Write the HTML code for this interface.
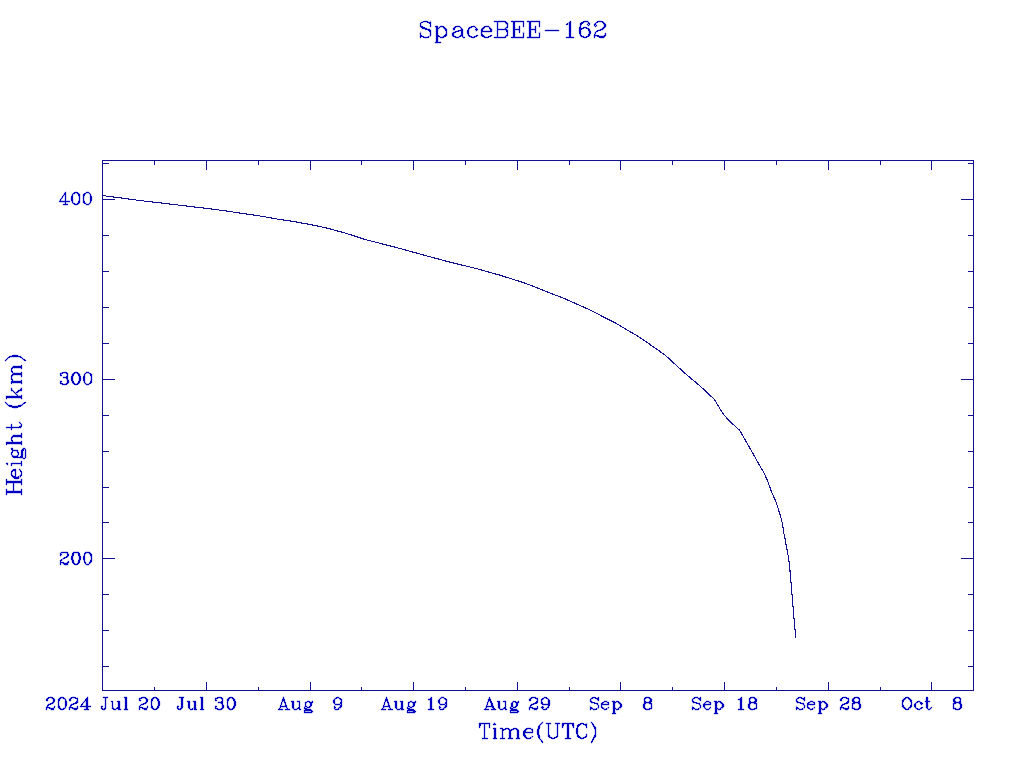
<!DOCTYPE html>
<html><head><meta charset="utf-8"><style>
html,body{margin:0;padding:0;background:#ffffff;width:1024px;height:768px;overflow:hidden}
svg{display:block}

</style></head><body>
<svg width="1024" height="768" viewBox="0 0 1024 768">
<rect width="1024" height="768" fill="#ffffff"/>
<g shape-rendering="crispEdges">
<rect x="102" y="160" width="872" height="1" fill="#101090"/>
<rect x="102" y="690" width="872" height="1" fill="#101090"/>
<rect x="102" y="160" width="1" height="531" fill="#101090"/>
<rect x="973" y="160" width="1" height="531" fill="#101090"/>
<rect x="206" y="160" width="1" height="10" fill="#101090"/>
<rect x="206" y="682" width="1" height="9" fill="#101090"/>
<rect x="310" y="160" width="1" height="10" fill="#101090"/>
<rect x="310" y="682" width="1" height="9" fill="#101090"/>
<rect x="413" y="160" width="1" height="10" fill="#101090"/>
<rect x="413" y="682" width="1" height="9" fill="#101090"/>
<rect x="517" y="160" width="1" height="10" fill="#101090"/>
<rect x="517" y="682" width="1" height="9" fill="#101090"/>
<rect x="620" y="160" width="1" height="10" fill="#101090"/>
<rect x="620" y="682" width="1" height="9" fill="#101090"/>
<rect x="724" y="160" width="1" height="10" fill="#101090"/>
<rect x="724" y="682" width="1" height="9" fill="#101090"/>
<rect x="828" y="160" width="1" height="10" fill="#101090"/>
<rect x="828" y="682" width="1" height="9" fill="#101090"/>
<rect x="931" y="160" width="1" height="10" fill="#101090"/>
<rect x="931" y="682" width="1" height="9" fill="#101090"/>
<rect x="154" y="160" width="1" height="5" fill="#101090"/>
<rect x="154" y="687" width="1" height="4" fill="#101090"/>
<rect x="258" y="160" width="1" height="5" fill="#101090"/>
<rect x="258" y="687" width="1" height="4" fill="#101090"/>
<rect x="361" y="160" width="1" height="5" fill="#101090"/>
<rect x="361" y="687" width="1" height="4" fill="#101090"/>
<rect x="465" y="160" width="1" height="5" fill="#101090"/>
<rect x="465" y="687" width="1" height="4" fill="#101090"/>
<rect x="569" y="160" width="1" height="5" fill="#101090"/>
<rect x="569" y="687" width="1" height="4" fill="#101090"/>
<rect x="672" y="160" width="1" height="5" fill="#101090"/>
<rect x="672" y="687" width="1" height="4" fill="#101090"/>
<rect x="776" y="160" width="1" height="5" fill="#101090"/>
<rect x="776" y="687" width="1" height="4" fill="#101090"/>
<rect x="880" y="160" width="1" height="5" fill="#101090"/>
<rect x="880" y="687" width="1" height="4" fill="#101090"/>
<rect x="102" y="163" width="7" height="1" fill="#101090"/>
<rect x="968" y="163" width="6" height="1" fill="#101090"/>
<rect x="102" y="199" width="13" height="1" fill="#101090"/>
<rect x="961" y="199" width="13" height="1" fill="#101090"/>
<rect x="102" y="235" width="7" height="1" fill="#101090"/>
<rect x="968" y="235" width="6" height="1" fill="#101090"/>
<rect x="102" y="271" width="7" height="1" fill="#101090"/>
<rect x="968" y="271" width="6" height="1" fill="#101090"/>
<rect x="102" y="307" width="7" height="1" fill="#101090"/>
<rect x="968" y="307" width="6" height="1" fill="#101090"/>
<rect x="102" y="343" width="7" height="1" fill="#101090"/>
<rect x="968" y="343" width="6" height="1" fill="#101090"/>
<rect x="102" y="379" width="13" height="1" fill="#101090"/>
<rect x="961" y="379" width="13" height="1" fill="#101090"/>
<rect x="102" y="415" width="7" height="1" fill="#101090"/>
<rect x="968" y="415" width="6" height="1" fill="#101090"/>
<rect x="102" y="451" width="7" height="1" fill="#101090"/>
<rect x="968" y="451" width="6" height="1" fill="#101090"/>
<rect x="102" y="487" width="7" height="1" fill="#101090"/>
<rect x="968" y="487" width="6" height="1" fill="#101090"/>
<rect x="102" y="522" width="7" height="1" fill="#101090"/>
<rect x="968" y="522" width="6" height="1" fill="#101090"/>
<rect x="102" y="558" width="13" height="1" fill="#101090"/>
<rect x="961" y="558" width="13" height="1" fill="#101090"/>
<rect x="102" y="594" width="7" height="1" fill="#101090"/>
<rect x="968" y="594" width="6" height="1" fill="#101090"/>
<rect x="102" y="630" width="7" height="1" fill="#101090"/>
<rect x="968" y="630" width="6" height="1" fill="#101090"/>
<rect x="102" y="666" width="7" height="1" fill="#101090"/>
<rect x="968" y="666" width="6" height="1" fill="#101090"/>
</g>
<polyline points="102,195.5 109.75,196.5 117.5,197.5 125,198.5 132,199.5 139.75,200.5 148.25,201.5 157,202.5 165.5,203.5 173.75,204.5 182,205.5 190.25,206.5 199,207.5 207.5,208.5 215.25,209.5 222.8,210.5 229.5,211.5 236.2,212.5 243.2,213.5 250,214.5 257,215.5 263.1,216.5 268.5,217.5 274,218.5 280.1,219.5 287,220.5 293.3,221.5 299,222.5 304.5,223.5 310,224.5 315,225.5 319.5,226.5 324.1,227.5 328.6,228.5 332.3,229.5 335.8,230.5 339.6,231.5 343.2,232.5 346.3,233.5 349.6,234.5 353,235.5 357,236.8 365,239.5 375,242 400,248.5 425,255.4 450,262.2 475,268.2 500,275.2 525,283.1 550,293 565,298.8 590,310 615,322.8 640,337.5 665,355 685,373.3 700.8,386.7 714.2,399.2 723.3,414.2 729.2,420.8 739.8,430.5 750,448.3 760.8,467.5 763.4,471.5 767.6,480.8 771.25,491.25 775.9,501.7 780.6,516.25 782.7,524.6 783.5,531.75 784.5,536 785.5,541.5 786.5,547 787.5,552.25 788.5,557.5 789.5,565.3 790.5,576.3 791.5,588 792.5,600.25 793.5,612.25 794.5,624 795.5,634 795.5,637.8" fill="none" stroke="#101090" stroke-width="1.1" shape-rendering="crispEdges"/>
<g fill="none" stroke="#0000c0" stroke-width="1.8" stroke-opacity="0.35" stroke-linecap="round" stroke-linejoin="round">
<path d="M47.50 699.50 L47.50 700.50 L47.50 700.50 L46.50 700.50 L46.50 699.50 L47.50 698.50 L47.50 698.50 L49.50 697.50 L51.50 697.50 L53.50 698.50 L53.50 698.50 L54.50 699.50 L54.50 700.50 L53.50 702.50 L52.50 703.50 L49.50 704.50 L48.50 704.50 L47.50 706.50 L46.50 707.50 L46.50 709.50 M51.50 697.50 L52.50 698.50 L53.50 698.50 L53.50 699.50 L53.50 700.50 L53.50 702.50 L51.50 703.50 L49.50 704.50 M46.50 708.50 L47.50 707.50 L48.50 707.50 L51.50 708.50 L52.50 708.50 L53.50 708.50 L54.50 707.50 M48.50 707.50 L51.50 709.50 L53.50 709.50 L53.50 708.50 L54.50 707.50 L54.50 706.50 M61.50 697.50 L59.50 698.50 L58.50 699.50 L58.50 702.50 L58.50 704.50 L58.50 707.50 L59.50 708.50 L61.50 709.50 L62.50 709.50 L64.50 708.50 L65.50 707.50 L66.50 704.50 L66.50 702.50 L65.50 699.50 L64.50 698.50 L62.50 697.50 L61.50 697.50 M61.50 697.50 L60.50 698.50 L59.50 698.50 L59.50 699.50 L58.50 702.50 L58.50 704.50 L59.50 707.50 L59.50 708.50 L60.50 708.50 L61.50 709.50 M62.50 709.50 L63.50 708.50 L64.50 708.50 L65.50 707.50 L65.50 704.50 L65.50 702.50 L65.50 699.50 L64.50 698.50 L63.50 698.50 L62.50 697.50 M70.50 699.50 L70.50 700.50 L70.50 700.50 L69.50 700.50 L69.50 699.50 L70.50 698.50 L70.50 698.50 L72.50 697.50 L74.50 697.50 L76.50 698.50 L77.50 698.50 L77.50 699.50 L77.50 700.50 L77.50 702.50 L75.50 703.50 L72.50 704.50 L71.50 704.50 L70.50 706.50 L69.50 707.50 L69.50 709.50 M74.50 697.50 L76.50 698.50 L76.50 698.50 L77.50 699.50 L77.50 700.50 L76.50 702.50 L74.50 703.50 L72.50 704.50 M69.50 708.50 L70.50 707.50 L71.50 707.50 L74.50 708.50 L76.50 708.50 L77.50 708.50 L77.50 707.50 M71.50 707.50 L74.50 709.50 L76.50 709.50 L77.50 708.50 L77.50 707.50 L77.50 706.50 M86.50 698.50 L86.50 709.50 M87.50 697.50 L87.50 709.50 M87.50 697.50 L80.50 706.50 L90.50 706.50 M84.50 709.50 L88.50 709.50"/>
<path d="M105.50 697.50 L105.50 707.50 L104.50 708.50 L104.50 709.50 M105.50 697.50 L105.50 707.50 L105.50 708.50 L104.50 709.50 L103.50 709.50 L101.50 708.50 L101.50 707.50 L101.50 706.50 L101.50 706.50 L102.50 706.50 L101.50 707.50 M103.50 697.50 L107.50 697.50 M112.50 701.50 L112.50 707.50 L112.50 708.50 L114.50 709.50 L115.50 709.50 L116.50 708.50 L118.50 707.50 M112.50 701.50 L112.50 707.50 L113.50 708.50 L114.50 709.50 M118.50 701.50 L118.50 709.50 M119.50 701.50 L119.50 709.50 M111.50 701.50 L112.50 701.50 M117.50 701.50 L119.50 701.50 M118.50 709.50 L120.50 709.50 M125.50 697.50 L125.50 709.50 M126.50 697.50 L126.50 709.50 M124.50 697.50 L126.50 697.50 M124.50 709.50 L127.50 709.50"/>
<path d="M139.50 699.50 L140.50 700.50 L139.50 700.50 L139.50 700.50 L139.50 699.50 L139.50 698.50 L140.50 698.50 L142.50 697.50 L144.50 697.50 L146.50 698.50 L146.50 698.50 L147.50 699.50 L147.50 700.50 L146.50 702.50 L145.50 703.50 L142.50 704.50 L141.50 704.50 L139.50 706.50 L139.50 707.50 L139.50 709.50 M144.50 697.50 L145.50 698.50 L146.50 698.50 L146.50 699.50 L146.50 700.50 L146.50 702.50 L144.50 703.50 L142.50 704.50 M139.50 708.50 L139.50 707.50 L141.50 707.50 L144.50 708.50 L145.50 708.50 L146.50 708.50 L147.50 707.50 M141.50 707.50 L144.50 709.50 L146.50 709.50 L146.50 708.50 L147.50 707.50 L147.50 706.50 M154.50 697.50 L152.50 698.50 L151.50 699.50 L151.50 702.50 L151.50 704.50 L151.50 707.50 L152.50 708.50 L154.50 709.50 L155.50 709.50 L157.50 708.50 L158.50 707.50 L159.50 704.50 L159.50 702.50 L158.50 699.50 L157.50 698.50 L155.50 697.50 L154.50 697.50 M154.50 697.50 L153.50 698.50 L152.50 698.50 L152.50 699.50 L151.50 702.50 L151.50 704.50 L152.50 707.50 L152.50 708.50 L153.50 708.50 L154.50 709.50 M155.50 709.50 L156.50 708.50 L157.50 708.50 L157.50 707.50 L158.50 704.50 L158.50 702.50 L157.50 699.50 L157.50 698.50 L156.50 698.50 L155.50 697.50"/>
<path d="M181.50 697.50 L181.50 707.50 L180.50 708.50 L180.50 709.50 M182.50 697.50 L182.50 707.50 L181.50 708.50 L180.50 709.50 L179.50 709.50 L177.50 708.50 L177.50 707.50 L177.50 706.50 L177.50 706.50 L178.50 706.50 L177.50 707.50 M179.50 697.50 L183.50 697.50 M188.50 701.50 L188.50 707.50 L189.50 708.50 L190.50 709.50 L191.50 709.50 L193.50 708.50 L194.50 707.50 M189.50 701.50 L189.50 707.50 L189.50 708.50 L190.50 709.50 M194.50 701.50 L194.50 709.50 M195.50 701.50 L195.50 709.50 M187.50 701.50 L189.50 701.50 M193.50 701.50 L195.50 701.50 M194.50 709.50 L196.50 709.50 M201.50 697.50 L201.50 709.50 M202.50 697.50 L202.50 709.50 M200.50 697.50 L202.50 697.50 M200.50 709.50 L203.50 709.50"/>
<path d="M215.50 699.50 L216.50 700.50 L215.50 700.50 L215.50 700.50 L215.50 699.50 L215.50 698.50 L216.50 698.50 L218.50 697.50 L220.50 697.50 L222.50 698.50 L222.50 699.50 L222.50 700.50 L222.50 702.50 L220.50 702.50 L218.50 702.50 M220.50 697.50 L221.50 698.50 L222.50 699.50 L222.50 700.50 L221.50 702.50 L220.50 702.50 M220.50 702.50 L221.50 703.50 L222.50 704.50 L223.50 705.50 L223.50 707.50 L222.50 708.50 L222.50 708.50 L220.50 709.50 L218.50 709.50 L216.50 708.50 L215.50 708.50 L215.50 707.50 L215.50 706.50 L215.50 706.50 L216.50 706.50 L215.50 707.50 M222.50 703.50 L222.50 705.50 L222.50 707.50 L222.50 708.50 L221.50 708.50 L220.50 709.50 M230.50 697.50 L228.50 698.50 L227.50 699.50 L227.50 702.50 L227.50 704.50 L227.50 707.50 L228.50 708.50 L230.50 709.50 L231.50 709.50 L233.50 708.50 L234.50 707.50 L235.50 704.50 L235.50 702.50 L234.50 699.50 L233.50 698.50 L231.50 697.50 L230.50 697.50 M230.50 697.50 L229.50 698.50 L228.50 698.50 L228.50 699.50 L227.50 702.50 L227.50 704.50 L228.50 707.50 L228.50 708.50 L229.50 708.50 L230.50 709.50 M231.50 709.50 L232.50 708.50 L233.50 708.50 L233.50 707.50 L234.50 704.50 L234.50 702.50 L233.50 699.50 L233.50 698.50 L232.50 698.50 L231.50 697.50"/>
<path d="M283.50 697.50 L279.50 709.50 M283.50 697.50 L287.50 709.50 M283.50 699.50 L287.50 709.50 M281.50 706.50 L286.50 706.50 M278.50 709.50 L282.50 709.50 M285.50 709.50 L289.50 709.50 M292.50 701.50 L292.50 707.50 L293.50 708.50 L294.50 709.50 L296.50 709.50 L297.50 708.50 L299.50 707.50 M293.50 701.50 L293.50 707.50 L293.50 708.50 L294.50 709.50 M299.50 701.50 L299.50 709.50 M299.50 701.50 L299.50 709.50 M291.50 701.50 L293.50 701.50 M297.50 701.50 L299.50 701.50 M299.50 709.50 L300.50 709.50 M307.50 701.50 L306.50 702.50 L305.50 702.50 L305.50 703.50 L305.50 704.50 L305.50 706.50 L306.50 706.50 L307.50 707.50 L308.50 707.50 L310.50 706.50 L310.50 706.50 L311.50 704.50 L311.50 703.50 L310.50 702.50 L310.50 702.50 L308.50 701.50 L307.50 701.50 M306.50 702.50 L305.50 703.50 L305.50 705.50 L306.50 706.50 M310.50 706.50 L310.50 705.50 L310.50 703.50 L310.50 702.50 M310.50 702.50 L311.50 702.50 L312.50 701.50 L312.50 701.50 L312.50 702.50 L312.50 702.50 L311.50 702.50 M305.50 706.50 L305.50 706.50 L304.50 707.50 L304.50 708.50 L305.50 709.50 L305.50 710.50 L307.50 710.50 L310.50 710.50 L311.50 711.50 L312.50 711.50 M304.50 708.50 L305.50 708.50 L307.50 709.50 L310.50 709.50 L311.50 710.50 L312.50 711.50 L312.50 711.50 L311.50 712.50 L310.50 712.50 L306.50 712.50 L304.50 712.50 L304.50 711.50 L304.50 711.50 L304.50 710.50 L306.50 709.50"/>
<path d="M341.50 701.50 L340.50 703.50 L339.50 704.50 L337.50 704.50 L337.50 704.50 L335.50 704.50 L334.50 703.50 L333.50 701.50 L333.50 700.50 L334.50 699.50 L335.50 698.50 L337.50 697.50 L338.50 697.50 L339.50 698.50 L341.50 699.50 L341.50 700.50 L341.50 704.50 L341.50 706.50 L340.50 707.50 L339.50 708.50 L337.50 709.50 L335.50 709.50 L334.50 708.50 L334.50 707.50 L334.50 707.50 L334.50 706.50 L335.50 707.50 L334.50 707.50 M337.50 704.50 L335.50 704.50 L334.50 703.50 L334.50 701.50 L334.50 700.50 L334.50 699.50 L335.50 698.50 L337.50 697.50 M338.50 697.50 L339.50 698.50 L340.50 699.50 L341.50 700.50 L341.50 704.50 L340.50 706.50 L339.50 707.50 L338.50 708.50 L337.50 709.50"/>
<path d="M386.50 697.50 L382.50 709.50 M386.50 697.50 L390.50 709.50 M386.50 699.50 L390.50 709.50 M383.50 706.50 L389.50 706.50 M381.50 709.50 L385.50 709.50 M388.50 709.50 L392.50 709.50 M395.50 701.50 L395.50 707.50 L396.50 708.50 L397.50 709.50 L399.50 709.50 L400.50 708.50 L401.50 707.50 M396.50 701.50 L396.50 707.50 L396.50 708.50 L397.50 709.50 M401.50 701.50 L401.50 709.50 M402.50 701.50 L402.50 709.50 M394.50 701.50 L396.50 701.50 M400.50 701.50 L402.50 701.50 M401.50 709.50 L403.50 709.50 M410.50 701.50 L409.50 702.50 L408.50 702.50 L408.50 703.50 L408.50 704.50 L408.50 706.50 L409.50 706.50 L410.50 707.50 L411.50 707.50 L412.50 706.50 L413.50 706.50 L414.50 704.50 L414.50 703.50 L413.50 702.50 L412.50 702.50 L411.50 701.50 L410.50 701.50 M409.50 702.50 L408.50 703.50 L408.50 705.50 L409.50 706.50 M412.50 706.50 L413.50 705.50 L413.50 703.50 L412.50 702.50 M413.50 702.50 L414.50 702.50 L415.50 701.50 L415.50 701.50 L415.50 702.50 L415.50 702.50 L414.50 702.50 M408.50 706.50 L408.50 706.50 L407.50 707.50 L407.50 708.50 L408.50 709.50 L408.50 710.50 L410.50 710.50 L412.50 710.50 L414.50 711.50 L415.50 711.50 M407.50 708.50 L408.50 708.50 L410.50 709.50 L412.50 709.50 L414.50 710.50 L415.50 711.50 L415.50 711.50 L414.50 712.50 L412.50 712.50 L409.50 712.50 L407.50 712.50 L407.50 711.50 L407.50 711.50 L407.50 710.50 L409.50 709.50"/>
<path d="M428.50 699.50 L429.50 699.50 L431.50 697.50 L431.50 709.50 M430.50 698.50 L430.50 709.50 M428.50 709.50 L433.50 709.50 M446.50 701.50 L445.50 703.50 L444.50 704.50 L442.50 704.50 L441.50 704.50 L440.50 704.50 L439.50 703.50 L438.50 701.50 L438.50 700.50 L439.50 699.50 L440.50 698.50 L441.50 697.50 L443.50 697.50 L444.50 698.50 L446.50 699.50 L446.50 700.50 L446.50 704.50 L446.50 706.50 L445.50 707.50 L444.50 708.50 L442.50 709.50 L440.50 709.50 L439.50 708.50 L439.50 707.50 L439.50 707.50 L439.50 706.50 L440.50 707.50 L439.50 707.50 M441.50 704.50 L440.50 704.50 L439.50 703.50 L439.50 701.50 L439.50 700.50 L439.50 699.50 L440.50 698.50 L441.50 697.50 M443.50 697.50 L444.50 698.50 L445.50 699.50 L446.50 700.50 L446.50 704.50 L445.50 706.50 L444.50 707.50 L443.50 708.50 L442.50 709.50"/>
<path d="M489.50 697.50 L485.50 709.50 M489.50 697.50 L494.50 709.50 M489.50 699.50 L493.50 709.50 M487.50 706.50 L492.50 706.50 M484.50 709.50 L488.50 709.50 M491.50 709.50 L495.50 709.50 M498.50 701.50 L498.50 707.50 L499.50 708.50 L500.50 709.50 L502.50 709.50 L503.50 708.50 L505.50 707.50 M499.50 701.50 L499.50 707.50 L499.50 708.50 L500.50 709.50 M505.50 701.50 L505.50 709.50 M505.50 701.50 L505.50 709.50 M497.50 701.50 L499.50 701.50 M503.50 701.50 L505.50 701.50 M505.50 709.50 L506.50 709.50 M513.50 701.50 L512.50 702.50 L512.50 702.50 L511.50 703.50 L511.50 704.50 L512.50 706.50 L512.50 706.50 L513.50 707.50 L514.50 707.50 L516.50 706.50 L516.50 706.50 L517.50 704.50 L517.50 703.50 L516.50 702.50 L516.50 702.50 L514.50 701.50 L513.50 701.50 M512.50 702.50 L512.50 703.50 L512.50 705.50 L512.50 706.50 M516.50 706.50 L516.50 705.50 L516.50 703.50 L516.50 702.50 M516.50 702.50 L517.50 702.50 L518.50 701.50 L518.50 701.50 L518.50 702.50 L518.50 702.50 L517.50 702.50 M512.50 706.50 L511.50 706.50 L510.50 707.50 L510.50 708.50 L511.50 709.50 L512.50 710.50 L513.50 710.50 L516.50 710.50 L517.50 711.50 L518.50 711.50 M510.50 708.50 L511.50 708.50 L513.50 709.50 L516.50 709.50 L517.50 710.50 L518.50 711.50 L518.50 711.50 L517.50 712.50 L516.50 712.50 L512.50 712.50 L510.50 712.50 L510.50 711.50 L510.50 711.50 L510.50 710.50 L512.50 709.50"/>
<path d="M530.50 699.50 L530.50 700.50 L530.50 700.50 L529.50 700.50 L529.50 699.50 L530.50 698.50 L530.50 698.50 L532.50 697.50 L534.50 697.50 L536.50 698.50 L537.50 698.50 L537.50 699.50 L537.50 700.50 L537.50 702.50 L535.50 703.50 L532.50 704.50 L531.50 704.50 L530.50 706.50 L529.50 707.50 L529.50 709.50 M534.50 697.50 L536.50 698.50 L536.50 698.50 L537.50 699.50 L537.50 700.50 L536.50 702.50 L534.50 703.50 L532.50 704.50 M529.50 708.50 L530.50 707.50 L531.50 707.50 L534.50 708.50 L536.50 708.50 L537.50 708.50 L537.50 707.50 M531.50 707.50 L534.50 709.50 L536.50 709.50 L537.50 708.50 L537.50 707.50 L537.50 706.50 M548.50 701.50 L548.50 703.50 L547.50 704.50 L545.50 704.50 L544.50 704.50 L543.50 704.50 L541.50 703.50 L541.50 701.50 L541.50 700.50 L541.50 699.50 L543.50 698.50 L544.50 697.50 L545.50 697.50 L547.50 698.50 L548.50 699.50 L549.50 700.50 L549.50 704.50 L548.50 706.50 L548.50 707.50 L547.50 708.50 L545.50 709.50 L543.50 709.50 L542.50 708.50 L541.50 707.50 L541.50 707.50 L542.50 706.50 L543.50 707.50 L542.50 707.50 M544.50 704.50 L543.50 704.50 L542.50 703.50 L541.50 701.50 L541.50 700.50 L542.50 699.50 L543.50 698.50 L544.50 697.50 M545.50 697.50 L547.50 698.50 L548.50 699.50 L548.50 700.50 L548.50 704.50 L548.50 706.50 L547.50 707.50 L546.50 708.50 L545.50 709.50"/>
<path d="M597.50 699.50 L598.50 697.50 L598.50 700.50 L597.50 699.50 L596.50 698.50 L594.50 697.50 L593.50 697.50 L591.50 698.50 L590.50 699.50 L590.50 700.50 L590.50 701.50 L591.50 702.50 L592.50 702.50 L596.50 703.50 L597.50 704.50 L598.50 705.50 M590.50 700.50 L591.50 701.50 L592.50 702.50 L596.50 703.50 L597.50 703.50 L597.50 704.50 L598.50 705.50 L598.50 707.50 L597.50 708.50 L595.50 709.50 L593.50 709.50 L592.50 708.50 L590.50 707.50 L590.50 706.50 L590.50 709.50 L590.50 707.50 M601.50 704.50 L608.50 704.50 L608.50 703.50 L608.50 702.50 L607.50 702.50 L606.50 701.50 L604.50 701.50 L603.50 702.50 L601.50 703.50 L601.50 704.50 L601.50 706.50 L601.50 707.50 L603.50 708.50 L604.50 709.50 L605.50 709.50 L607.50 708.50 L608.50 707.50 M608.50 704.50 L608.50 703.50 L607.50 702.50 M604.50 701.50 L603.50 702.50 L602.50 703.50 L601.50 704.50 L601.50 706.50 L602.50 707.50 L603.50 708.50 L604.50 709.50 M613.50 701.50 L613.50 713.50 M614.50 701.50 L614.50 713.50 M614.50 703.50 L615.50 702.50 L616.50 701.50 L617.50 701.50 L619.50 702.50 L620.50 703.50 L621.50 704.50 L621.50 706.50 L620.50 707.50 L619.50 708.50 L617.50 709.50 L616.50 709.50 L615.50 708.50 L614.50 707.50 M617.50 701.50 L618.50 702.50 L619.50 703.50 L620.50 704.50 L620.50 706.50 L619.50 707.50 L618.50 708.50 L617.50 709.50 M612.50 701.50 L614.50 701.50 M612.50 713.50 L615.50 713.50"/>
<path d="M646.50 697.50 L644.50 698.50 L644.50 699.50 L644.50 700.50 L644.50 702.50 L646.50 702.50 L648.50 702.50 L650.50 702.50 L651.50 700.50 L651.50 699.50 L650.50 698.50 L648.50 697.50 L646.50 697.50 M646.50 697.50 L645.50 698.50 L644.50 699.50 L644.50 700.50 L645.50 702.50 L646.50 702.50 M648.50 702.50 L649.50 702.50 L650.50 700.50 L650.50 699.50 L649.50 698.50 L648.50 697.50 M646.50 702.50 L644.50 703.50 L644.50 703.50 L643.50 704.50 L643.50 707.50 L644.50 708.50 L644.50 708.50 L646.50 709.50 L648.50 709.50 L650.50 708.50 L651.50 708.50 L651.50 707.50 L651.50 704.50 L651.50 703.50 L650.50 703.50 L648.50 702.50 M646.50 702.50 L645.50 703.50 L644.50 703.50 L644.50 704.50 L644.50 707.50 L644.50 708.50 L645.50 708.50 L646.50 709.50 M648.50 709.50 L649.50 708.50 L650.50 708.50 L651.50 707.50 L651.50 704.50 L650.50 703.50 L649.50 703.50 L648.50 702.50"/>
<path d="M699.50 699.50 L700.50 697.50 L700.50 700.50 L699.50 699.50 L698.50 698.50 L697.50 697.50 L695.50 697.50 L693.50 698.50 L692.50 699.50 L692.50 700.50 L692.50 701.50 L693.50 702.50 L694.50 702.50 L698.50 703.50 L699.50 704.50 L700.50 705.50 M692.50 700.50 L693.50 701.50 L694.50 702.50 L698.50 703.50 L699.50 703.50 L699.50 704.50 L700.50 705.50 L700.50 707.50 L699.50 708.50 L697.50 709.50 L695.50 709.50 L694.50 708.50 L692.50 707.50 L692.50 706.50 L692.50 709.50 L692.50 707.50 M704.50 704.50 L710.50 704.50 L710.50 703.50 L710.50 702.50 L709.50 702.50 L708.50 701.50 L706.50 701.50 L705.50 702.50 L704.50 703.50 L703.50 704.50 L703.50 706.50 L704.50 707.50 L705.50 708.50 L706.50 709.50 L708.50 709.50 L709.50 708.50 L710.50 707.50 M710.50 704.50 L710.50 703.50 L709.50 702.50 M706.50 701.50 L705.50 702.50 L704.50 703.50 L704.50 704.50 L704.50 706.50 L704.50 707.50 L705.50 708.50 L706.50 709.50 M715.50 701.50 L715.50 713.50 M716.50 701.50 L716.50 713.50 M716.50 703.50 L717.50 702.50 L718.50 701.50 L719.50 701.50 L721.50 702.50 L722.50 703.50 L723.50 704.50 L723.50 706.50 L722.50 707.50 L721.50 708.50 L719.50 709.50 L718.50 709.50 L717.50 708.50 L716.50 707.50 M719.50 701.50 L720.50 702.50 L721.50 703.50 L722.50 704.50 L722.50 706.50 L721.50 707.50 L720.50 708.50 L719.50 709.50 M714.50 701.50 L716.50 701.50 M714.50 713.50 L717.50 713.50"/>
<path d="M738.50 699.50 L739.50 699.50 L741.50 697.50 L741.50 709.50 M740.50 698.50 L740.50 709.50 M738.50 709.50 L743.50 709.50 M751.50 697.50 L749.50 698.50 L749.50 699.50 L749.50 700.50 L749.50 702.50 L751.50 702.50 L753.50 702.50 L755.50 702.50 L756.50 700.50 L756.50 699.50 L755.50 698.50 L753.50 697.50 L751.50 697.50 M751.50 697.50 L750.50 698.50 L749.50 699.50 L749.50 700.50 L750.50 702.50 L751.50 702.50 M753.50 702.50 L754.50 702.50 L755.50 700.50 L755.50 699.50 L754.50 698.50 L753.50 697.50 M751.50 702.50 L749.50 703.50 L749.50 703.50 L748.50 704.50 L748.50 707.50 L749.50 708.50 L749.50 708.50 L751.50 709.50 L753.50 709.50 L755.50 708.50 L756.50 708.50 L756.50 707.50 L756.50 704.50 L756.50 703.50 L755.50 703.50 L753.50 702.50 M751.50 702.50 L750.50 703.50 L749.50 703.50 L749.50 704.50 L749.50 707.50 L749.50 708.50 L750.50 708.50 L751.50 709.50 M753.50 709.50 L754.50 708.50 L755.50 708.50 L756.50 707.50 L756.50 704.50 L755.50 703.50 L754.50 703.50 L753.50 702.50"/>
<path d="M803.50 699.50 L804.50 697.50 L804.50 700.50 L803.50 699.50 L802.50 698.50 L800.50 697.50 L799.50 697.50 L797.50 698.50 L796.50 699.50 L796.50 700.50 L796.50 701.50 L797.50 702.50 L798.50 702.50 L802.50 703.50 L803.50 704.50 L804.50 705.50 M796.50 700.50 L797.50 701.50 L798.50 702.50 L802.50 703.50 L803.50 703.50 L803.50 704.50 L804.50 705.50 L804.50 707.50 L803.50 708.50 L801.50 709.50 L799.50 709.50 L798.50 708.50 L796.50 707.50 L796.50 706.50 L796.50 709.50 L796.50 707.50 M807.50 704.50 L814.50 704.50 L814.50 703.50 L814.50 702.50 L813.50 702.50 L812.50 701.50 L810.50 701.50 L809.50 702.50 L807.50 703.50 L807.50 704.50 L807.50 706.50 L807.50 707.50 L809.50 708.50 L810.50 709.50 L811.50 709.50 L813.50 708.50 L814.50 707.50 M814.50 704.50 L814.50 703.50 L813.50 702.50 M810.50 701.50 L809.50 702.50 L808.50 703.50 L807.50 704.50 L807.50 706.50 L808.50 707.50 L809.50 708.50 L810.50 709.50 M819.50 701.50 L819.50 713.50 M820.50 701.50 L820.50 713.50 M820.50 703.50 L821.50 702.50 L822.50 701.50 L823.50 701.50 L825.50 702.50 L826.50 703.50 L827.50 704.50 L827.50 706.50 L826.50 707.50 L825.50 708.50 L823.50 709.50 L822.50 709.50 L821.50 708.50 L820.50 707.50 M823.50 701.50 L824.50 702.50 L825.50 703.50 L826.50 704.50 L826.50 706.50 L825.50 707.50 L824.50 708.50 L823.50 709.50 M818.50 701.50 L820.50 701.50 M818.50 713.50 L821.50 713.50"/>
<path d="M841.50 699.50 L841.50 700.50 L841.50 700.50 L840.50 700.50 L840.50 699.50 L841.50 698.50 L841.50 698.50 L843.50 697.50 L845.50 697.50 L847.50 698.50 L848.50 698.50 L848.50 699.50 L848.50 700.50 L848.50 702.50 L846.50 703.50 L843.50 704.50 L842.50 704.50 L841.50 706.50 L840.50 707.50 L840.50 709.50 M845.50 697.50 L847.50 698.50 L847.50 698.50 L848.50 699.50 L848.50 700.50 L847.50 702.50 L845.50 703.50 L843.50 704.50 M840.50 708.50 L841.50 707.50 L842.50 707.50 L845.50 708.50 L847.50 708.50 L848.50 708.50 L848.50 707.50 M842.50 707.50 L845.50 709.50 L847.50 709.50 L848.50 708.50 L848.50 707.50 L848.50 706.50 M855.50 697.50 L853.50 698.50 L852.50 699.50 L852.50 700.50 L853.50 702.50 L855.50 702.50 L857.50 702.50 L859.50 702.50 L859.50 700.50 L859.50 699.50 L859.50 698.50 L857.50 697.50 L855.50 697.50 M855.50 697.50 L854.50 698.50 L853.50 699.50 L853.50 700.50 L854.50 702.50 L855.50 702.50 M857.50 702.50 L858.50 702.50 L859.50 700.50 L859.50 699.50 L858.50 698.50 L857.50 697.50 M855.50 702.50 L853.50 703.50 L852.50 703.50 L852.50 704.50 L852.50 707.50 L852.50 708.50 L853.50 708.50 L855.50 709.50 L857.50 709.50 L859.50 708.50 L859.50 708.50 L860.50 707.50 L860.50 704.50 L859.50 703.50 L859.50 703.50 L857.50 702.50 M855.50 702.50 L854.50 703.50 L853.50 703.50 L852.50 704.50 L852.50 707.50 L853.50 708.50 L854.50 708.50 L855.50 709.50 M857.50 709.50 L858.50 708.50 L859.50 708.50 L859.50 707.50 L859.50 704.50 L859.50 703.50 L858.50 703.50 L857.50 702.50"/>
<path d="M906.50 697.50 L904.50 698.50 L903.50 699.50 L902.50 700.50 L902.50 702.50 L902.50 704.50 L902.50 706.50 L903.50 707.50 L904.50 708.50 L906.50 709.50 L907.50 709.50 L909.50 708.50 L910.50 707.50 L911.50 706.50 L911.50 704.50 L911.50 702.50 L911.50 700.50 L910.50 699.50 L909.50 698.50 L907.50 697.50 L906.50 697.50 M906.50 697.50 L905.50 698.50 L904.50 699.50 L903.50 700.50 L902.50 702.50 L902.50 704.50 L903.50 706.50 L904.50 707.50 L905.50 708.50 L906.50 709.50 M907.50 709.50 L908.50 708.50 L909.50 707.50 L910.50 706.50 L911.50 704.50 L911.50 702.50 L910.50 700.50 L909.50 699.50 L908.50 698.50 L907.50 697.50 M921.50 703.50 L920.50 703.50 L921.50 704.50 L922.50 703.50 L922.50 703.50 L920.50 702.50 L919.50 701.50 L918.50 701.50 L916.50 702.50 L915.50 703.50 L914.50 704.50 L914.50 706.50 L915.50 707.50 L916.50 708.50 L918.50 709.50 L919.50 709.50 L920.50 708.50 L922.50 707.50 M918.50 701.50 L916.50 702.50 L915.50 703.50 L915.50 704.50 L915.50 706.50 L915.50 707.50 L916.50 708.50 L918.50 709.50 M926.50 697.50 L926.50 707.50 L927.50 708.50 L928.50 709.50 L929.50 709.50 L930.50 708.50 L931.50 707.50 M927.50 697.50 L927.50 707.50 L927.50 708.50 L928.50 709.50 M925.50 701.50 L929.50 701.50"/>
<path d="M956.50 697.50 L954.50 698.50 L953.50 699.50 L953.50 700.50 L954.50 702.50 L956.50 702.50 L958.50 702.50 L960.50 702.50 L960.50 700.50 L960.50 699.50 L960.50 698.50 L958.50 697.50 L956.50 697.50 M956.50 697.50 L955.50 698.50 L954.50 699.50 L954.50 700.50 L955.50 702.50 L956.50 702.50 M958.50 702.50 L959.50 702.50 L960.50 700.50 L960.50 699.50 L959.50 698.50 L958.50 697.50 M956.50 702.50 L954.50 703.50 L953.50 703.50 L953.50 704.50 L953.50 707.50 L953.50 708.50 L954.50 708.50 L956.50 709.50 L958.50 709.50 L960.50 708.50 L960.50 708.50 L961.50 707.50 L961.50 704.50 L960.50 703.50 L960.50 703.50 L958.50 702.50 M956.50 702.50 L955.50 703.50 L954.50 703.50 L953.50 704.50 L953.50 707.50 L954.50 708.50 L955.50 708.50 L956.50 709.50 M958.50 709.50 L959.50 708.50 L960.50 708.50 L960.50 707.50 L960.50 704.50 L960.50 703.50 L959.50 703.50 L958.50 702.50"/>
<path d="M65.50 193.50 L65.50 204.50 M65.50 192.50 L65.50 204.50 M65.50 192.50 L59.50 201.50 L69.50 201.50 M63.50 204.50 L67.50 204.50 M75.50 192.50 L73.50 193.50 L72.50 194.50 L71.50 197.50 L71.50 199.50 L72.50 202.50 L73.50 203.50 L75.50 204.50 L76.50 204.50 L78.50 203.50 L79.50 202.50 L79.50 199.50 L79.50 197.50 L79.50 194.50 L78.50 193.50 L76.50 192.50 L75.50 192.50 M75.50 192.50 L74.50 193.50 L73.50 193.50 L72.50 194.50 L72.50 197.50 L72.50 199.50 L72.50 202.50 L73.50 203.50 L74.50 203.50 L75.50 204.50 M76.50 204.50 L77.50 203.50 L78.50 203.50 L78.50 202.50 L79.50 199.50 L79.50 197.50 L78.50 194.50 L78.50 193.50 L77.50 193.50 L76.50 192.50 M86.50 192.50 L85.50 193.50 L83.50 194.50 L83.50 197.50 L83.50 199.50 L83.50 202.50 L85.50 203.50 L86.50 204.50 L88.50 204.50 L89.50 203.50 L90.50 202.50 L91.50 199.50 L91.50 197.50 L90.50 194.50 L89.50 193.50 L88.50 192.50 L86.50 192.50 M86.50 192.50 L85.50 193.50 L85.50 193.50 L84.50 194.50 L83.50 197.50 L83.50 199.50 L84.50 202.50 L85.50 203.50 L85.50 203.50 L86.50 204.50 M88.50 204.50 L89.50 203.50 L89.50 203.50 L90.50 202.50 L90.50 199.50 L90.50 197.50 L90.50 194.50 L89.50 193.50 L89.50 193.50 L88.50 192.50"/>
<path d="M60.50 374.50 L61.50 375.50 L60.50 375.50 L60.50 375.50 L60.50 374.50 L60.50 373.50 L61.50 373.50 L63.50 372.50 L65.50 372.50 L67.50 373.50 L67.50 374.50 L67.50 375.50 L67.50 377.50 L65.50 377.50 L63.50 377.50 M65.50 372.50 L66.50 373.50 L67.50 374.50 L67.50 375.50 L66.50 377.50 L65.50 377.50 M65.50 377.50 L66.50 378.50 L67.50 379.50 L68.50 380.50 L68.50 382.50 L67.50 383.50 L67.50 383.50 L65.50 384.50 L63.50 384.50 L61.50 383.50 L60.50 383.50 L60.50 382.50 L60.50 381.50 L60.50 381.50 L61.50 381.50 L60.50 382.50 M67.50 378.50 L67.50 380.50 L67.50 382.50 L67.50 383.50 L66.50 383.50 L65.50 384.50 M75.50 372.50 L73.50 373.50 L72.50 374.50 L71.50 377.50 L71.50 379.50 L72.50 382.50 L73.50 383.50 L75.50 384.50 L76.50 384.50 L78.50 383.50 L79.50 382.50 L80.50 379.50 L80.50 377.50 L79.50 374.50 L78.50 373.50 L76.50 372.50 L75.50 372.50 M75.50 372.50 L74.50 373.50 L73.50 373.50 L73.50 374.50 L72.50 377.50 L72.50 379.50 L73.50 382.50 L73.50 383.50 L74.50 383.50 L75.50 384.50 M76.50 384.50 L77.50 383.50 L78.50 383.50 L78.50 382.50 L79.50 379.50 L79.50 377.50 L78.50 374.50 L78.50 373.50 L77.50 373.50 L76.50 372.50 M86.50 372.50 L85.50 373.50 L84.50 374.50 L83.50 377.50 L83.50 379.50 L84.50 382.50 L85.50 383.50 L86.50 384.50 L88.50 384.50 L89.50 383.50 L91.50 382.50 L91.50 379.50 L91.50 377.50 L91.50 374.50 L89.50 373.50 L88.50 372.50 L86.50 372.50 M86.50 372.50 L85.50 373.50 L85.50 373.50 L84.50 374.50 L84.50 377.50 L84.50 379.50 L84.50 382.50 L85.50 383.50 L85.50 383.50 L86.50 384.50 M88.50 384.50 L89.50 383.50 L89.50 383.50 L90.50 382.50 L91.50 379.50 L91.50 377.50 L90.50 374.50 L89.50 373.50 L89.50 373.50 L88.50 372.50"/>
<path d="M60.50 554.50 L61.50 554.50 L60.50 555.50 L60.50 554.50 L60.50 554.50 L60.50 553.50 L61.50 552.50 L63.50 552.50 L65.50 552.50 L67.50 552.50 L67.50 553.50 L68.50 554.50 L68.50 555.50 L67.50 556.50 L66.50 557.50 L63.50 558.50 L62.50 559.50 L60.50 560.50 L60.50 562.50 L60.50 564.50 M65.50 552.50 L66.50 552.50 L67.50 553.50 L67.50 554.50 L67.50 555.50 L67.50 556.50 L65.50 557.50 L63.50 558.50 M60.50 562.50 L60.50 562.50 L62.50 562.50 L64.50 563.50 L66.50 563.50 L67.50 562.50 L68.50 562.50 M62.50 562.50 L64.50 564.50 L67.50 564.50 L67.50 563.50 L68.50 562.50 L68.50 561.50 M75.50 552.50 L73.50 552.50 L72.50 554.50 L71.50 557.50 L71.50 558.50 L72.50 561.50 L73.50 563.50 L75.50 564.50 L76.50 564.50 L78.50 563.50 L79.50 561.50 L80.50 558.50 L80.50 557.50 L79.50 554.50 L78.50 552.50 L76.50 552.50 L75.50 552.50 M75.50 552.50 L74.50 552.50 L73.50 553.50 L73.50 554.50 L72.50 557.50 L72.50 558.50 L73.50 561.50 L73.50 562.50 L74.50 563.50 L75.50 564.50 M76.50 564.50 L77.50 563.50 L78.50 562.50 L78.50 561.50 L79.50 558.50 L79.50 557.50 L78.50 554.50 L78.50 553.50 L77.50 552.50 L76.50 552.50 M86.50 552.50 L85.50 552.50 L84.50 554.50 L83.50 557.50 L83.50 558.50 L84.50 561.50 L85.50 563.50 L86.50 564.50 L88.50 564.50 L89.50 563.50 L91.50 561.50 L91.50 558.50 L91.50 557.50 L91.50 554.50 L89.50 552.50 L88.50 552.50 L86.50 552.50 M86.50 552.50 L85.50 552.50 L85.50 553.50 L84.50 554.50 L84.50 557.50 L84.50 558.50 L84.50 561.50 L85.50 562.50 L85.50 563.50 L86.50 564.50 M88.50 564.50 L89.50 563.50 L89.50 562.50 L90.50 561.50 L91.50 558.50 L91.50 557.50 L90.50 554.50 L89.50 553.50 L89.50 552.50 L88.50 552.50"/>
<path d="M430.50 23.50 L430.50 21.50 L430.50 26.50 L430.50 23.50 L428.50 22.50 L426.50 21.50 L424.50 21.50 L421.50 22.50 L420.50 23.50 L420.50 25.50 L420.50 26.50 L421.50 27.50 L423.50 28.50 L427.50 29.50 L429.50 30.50 L430.50 32.50 M420.50 25.50 L421.50 26.50 L423.50 27.50 L427.50 29.50 L429.50 29.50 L430.50 30.50 L430.50 32.50 L430.50 35.50 L429.50 36.50 L427.50 37.50 L424.50 37.50 L422.50 36.50 L420.50 35.50 L420.50 32.50 L420.50 37.50 L420.50 35.50 M436.50 26.50 L436.50 42.50 M437.50 26.50 L437.50 42.50 M437.50 29.50 L439.50 27.50 L440.50 26.50 L442.50 26.50 L444.50 27.50 L446.50 29.50 L446.50 31.50 L446.50 32.50 L446.50 35.50 L444.50 36.50 L442.50 37.50 L440.50 37.50 L439.50 36.50 L437.50 35.50 M442.50 26.50 L443.50 27.50 L445.50 29.50 L446.50 31.50 L446.50 32.50 L445.50 35.50 L443.50 36.50 L442.50 37.50 M435.50 26.50 L437.50 26.50 M435.50 42.50 L440.50 42.50 M454.50 28.50 L454.50 29.50 L453.50 29.50 L453.50 28.50 L454.50 27.50 L456.50 26.50 L459.50 26.50 L460.50 27.50 L461.50 28.50 L462.50 29.50 L462.50 35.50 L462.50 36.50 L463.50 37.50 M461.50 28.50 L461.50 35.50 L462.50 36.50 L463.50 37.50 L464.50 37.50 M461.50 29.50 L460.50 30.50 L456.50 31.50 L453.50 32.50 L452.50 33.50 L452.50 35.50 L453.50 36.50 L456.50 37.50 L458.50 37.50 L459.50 36.50 L461.50 35.50 M456.50 31.50 L454.50 32.50 L453.50 33.50 L453.50 35.50 L454.50 36.50 L456.50 37.50 M476.50 29.50 L475.50 29.50 L476.50 30.50 L477.50 29.50 L477.50 29.50 L475.50 27.50 L474.50 26.50 L472.50 26.50 L469.50 27.50 L468.50 29.50 L467.50 31.50 L467.50 32.50 L468.50 35.50 L469.50 36.50 L472.50 37.50 L473.50 37.50 L475.50 36.50 L477.50 35.50 M472.50 26.50 L470.50 27.50 L468.50 29.50 L468.50 31.50 L468.50 32.50 L468.50 35.50 L470.50 36.50 L472.50 37.50 M481.50 31.50 L491.50 31.50 L491.50 29.50 L490.50 28.50 L489.50 27.50 L488.50 26.50 L485.50 26.50 L483.50 27.50 L481.50 29.50 L481.50 31.50 L481.50 32.50 L481.50 35.50 L483.50 36.50 L485.50 37.50 L487.50 37.50 L489.50 36.50 L491.50 35.50 M490.50 31.50 L490.50 29.50 L489.50 27.50 M485.50 26.50 L484.50 27.50 L482.50 29.50 L481.50 31.50 L481.50 32.50 L482.50 35.50 L484.50 36.50 L485.50 37.50 M497.50 21.50 L497.50 37.50 M497.50 21.50 L497.50 37.50 M494.50 21.50 L504.50 21.50 L506.50 22.50 L507.50 23.50 L507.50 24.50 L507.50 26.50 L507.50 27.50 L506.50 28.50 L504.50 29.50 M504.50 21.50 L505.50 22.50 L506.50 23.50 L507.50 24.50 L507.50 26.50 L506.50 27.50 L505.50 28.50 L504.50 29.50 M497.50 29.50 L504.50 29.50 L506.50 29.50 L507.50 30.50 L507.50 32.50 L507.50 34.50 L507.50 35.50 L506.50 36.50 L504.50 37.50 L494.50 37.50 M504.50 29.50 L505.50 29.50 L506.50 30.50 L507.50 32.50 L507.50 34.50 L506.50 35.50 L505.50 36.50 L504.50 37.50 M513.50 21.50 L513.50 37.50 M514.50 21.50 L514.50 37.50 M519.50 26.50 L519.50 32.50 M511.50 21.50 L523.50 21.50 L523.50 26.50 L523.50 21.50 M514.50 29.50 L519.50 29.50 M511.50 37.50 L523.50 37.50 L523.50 32.50 L523.50 37.50 M529.50 21.50 L529.50 37.50 M530.50 21.50 L530.50 37.50 M535.50 26.50 L535.50 32.50 M527.50 21.50 L539.50 21.50 L539.50 26.50 L539.50 21.50 M530.50 29.50 L535.50 29.50 M527.50 37.50 L539.50 37.50 L539.50 32.50 L539.50 37.50 M545.50 30.50 L558.50 30.50 M566.50 24.50 L568.50 23.50 L570.50 21.50 L570.50 37.50 M569.50 22.50 L569.50 37.50 M566.50 37.50 L573.50 37.50 M588.50 23.50 L587.50 24.50 L588.50 25.50 L589.50 24.50 L589.50 23.50 L588.50 22.50 L587.50 21.50 L584.50 21.50 L582.50 22.50 L580.50 23.50 L580.50 25.50 L579.50 28.50 L579.50 32.50 L580.50 35.50 L581.50 36.50 L584.50 37.50 L585.50 37.50 L587.50 36.50 L589.50 35.50 L590.50 32.50 L590.50 32.50 L589.50 29.50 L587.50 28.50 L585.50 27.50 L584.50 27.50 L582.50 28.50 L580.50 29.50 L580.50 32.50 M584.50 21.50 L583.50 22.50 L581.50 23.50 L580.50 25.50 L580.50 28.50 L580.50 32.50 L580.50 35.50 L582.50 36.50 L584.50 37.50 M585.50 37.50 L587.50 36.50 L588.50 35.50 L589.50 32.50 L589.50 32.50 L588.50 29.50 L587.50 28.50 L585.50 27.50 M595.50 24.50 L596.50 25.50 L595.50 26.50 L594.50 25.50 L594.50 24.50 L595.50 23.50 L596.50 22.50 L598.50 21.50 L601.50 21.50 L603.50 22.50 L604.50 23.50 L605.50 24.50 L605.50 26.50 L604.50 27.50 L602.50 29.50 L598.50 30.50 L596.50 31.50 L595.50 32.50 L594.50 35.50 L594.50 37.50 M601.50 21.50 L603.50 22.50 L603.50 23.50 L604.50 24.50 L604.50 26.50 L603.50 27.50 L601.50 29.50 L598.50 30.50 M594.50 35.50 L595.50 35.50 L596.50 35.50 L600.50 36.50 L603.50 36.50 L604.50 35.50 L605.50 35.50 M596.50 35.50 L600.50 37.50 L603.50 37.50 L604.50 36.50 L605.50 35.50 L605.50 33.50"/>
<path d="M484.50 723.50 L484.50 738.50 M484.50 723.50 L484.50 738.50 M480.50 723.50 L479.50 727.50 L479.50 723.50 L489.50 723.50 L489.50 727.50 L489.50 723.50 M482.50 738.50 L487.50 738.50 M494.50 723.50 L493.50 724.50 L494.50 724.50 L495.50 724.50 L494.50 723.50 M494.50 728.50 L494.50 738.50 M495.50 728.50 L495.50 738.50 M493.50 728.50 L495.50 728.50 M493.50 738.50 L496.50 738.50 M502.50 728.50 L502.50 738.50 M502.50 728.50 L502.50 738.50 M502.50 730.50 L504.50 729.50 L506.50 728.50 L507.50 728.50 L509.50 729.50 L510.50 730.50 L510.50 738.50 M507.50 728.50 L509.50 729.50 L509.50 730.50 L509.50 738.50 M510.50 730.50 L512.50 729.50 L514.50 728.50 L515.50 728.50 L517.50 729.50 L518.50 730.50 L518.50 738.50 M515.50 728.50 L516.50 729.50 L517.50 730.50 L517.50 738.50 M500.50 728.50 L502.50 728.50 M500.50 738.50 L504.50 738.50 M508.50 738.50 L512.50 738.50 M516.50 738.50 L519.50 738.50 M524.50 732.50 L532.50 732.50 L532.50 731.50 L532.50 729.50 L531.50 729.50 L530.50 728.50 L527.50 728.50 L525.50 729.50 L524.50 730.50 L523.50 732.50 L523.50 734.50 L524.50 736.50 L525.50 737.50 L527.50 738.50 L529.50 738.50 L531.50 737.50 L532.50 736.50 M532.50 732.50 L532.50 730.50 L531.50 729.50 M527.50 728.50 L526.50 729.50 L525.50 730.50 L524.50 732.50 L524.50 734.50 L525.50 736.50 L526.50 737.50 L527.50 738.50 M542.50 722.50 L541.50 723.50 L539.50 725.50 L538.50 727.50 L537.50 730.50 L537.50 733.50 L538.50 736.50 L539.50 738.50 L541.50 740.50 L542.50 742.50 M541.50 723.50 L539.50 725.50 L539.50 727.50 L538.50 730.50 L538.50 733.50 L539.50 736.50 L539.50 738.50 L541.50 740.50 M548.50 723.50 L548.50 734.50 L548.50 736.50 L550.50 737.50 L552.50 738.50 L553.50 738.50 L555.50 737.50 L557.50 736.50 L557.50 734.50 L557.50 723.50 M548.50 723.50 L548.50 734.50 L549.50 736.50 L550.50 737.50 L552.50 738.50 M546.50 723.50 L550.50 723.50 M555.50 723.50 L559.50 723.50 M567.50 723.50 L567.50 738.50 M568.50 723.50 L568.50 738.50 M563.50 723.50 L562.50 727.50 L562.50 723.50 L573.50 723.50 L573.50 727.50 L572.50 723.50 M565.50 738.50 L570.50 738.50 M586.50 725.50 L586.50 727.50 L586.50 723.50 L586.50 725.50 L584.50 724.50 L582.50 723.50 L581.50 723.50 L579.50 724.50 L577.50 725.50 L577.50 727.50 L576.50 729.50 L576.50 732.50 L577.50 734.50 L577.50 736.50 L579.50 737.50 L581.50 738.50 L582.50 738.50 L584.50 737.50 L586.50 736.50 L586.50 734.50 M581.50 723.50 L580.50 724.50 L578.50 725.50 L577.50 727.50 L577.50 729.50 L577.50 732.50 L577.50 734.50 L578.50 736.50 L580.50 737.50 L581.50 738.50 M591.50 722.50 L592.50 723.50 L593.50 725.50 L595.50 727.50 L595.50 730.50 L595.50 733.50 L595.50 736.50 L593.50 738.50 L592.50 740.50 L591.50 742.50 M592.50 723.50 L593.50 725.50 L594.50 727.50 L595.50 730.50 L595.50 733.50 L594.50 736.50 L593.50 738.50 L592.50 740.50"/>
<path d="M6.50 492.50 L21.50 492.50 M6.50 491.50 L21.50 491.50 M6.50 482.50 L21.50 482.50 M6.50 481.50 L21.50 481.50 M6.50 494.50 L6.50 489.50 M6.50 484.50 L6.50 479.50 M13.50 491.50 L13.50 482.50 M21.50 494.50 L21.50 489.50 M21.50 484.50 L21.50 479.50 M15.50 477.50 L15.50 469.50 L14.50 469.50 L12.50 470.50 L12.50 470.50 L11.50 472.50 L11.50 474.50 L12.50 476.50 L13.50 477.50 L15.50 478.50 L17.50 478.50 L19.50 477.50 L20.50 476.50 L21.50 474.50 L21.50 472.50 L20.50 470.50 L19.50 469.50 M15.50 470.50 L13.50 470.50 L12.50 470.50 M11.50 474.50 L12.50 475.50 L13.50 476.50 L15.50 477.50 L17.50 477.50 L19.50 476.50 L20.50 475.50 L21.50 474.50 M6.50 463.50 L7.50 464.50 L7.50 463.50 L7.50 463.50 L6.50 463.50 M11.50 463.50 L21.50 463.50 M11.50 463.50 L21.50 463.50 M11.50 465.50 L11.50 463.50 M21.50 465.50 L21.50 461.50 M11.50 454.50 L12.50 455.50 L12.50 456.50 L14.50 457.50 L15.50 457.50 L17.50 456.50 L17.50 455.50 L18.50 454.50 L18.50 453.50 L17.50 451.50 L17.50 450.50 L15.50 450.50 L14.50 450.50 L12.50 450.50 L12.50 451.50 L11.50 453.50 L11.50 454.50 M12.50 455.50 L13.50 456.50 L16.50 456.50 L17.50 455.50 M17.50 451.50 L16.50 450.50 L13.50 450.50 L12.50 451.50 M12.50 450.50 L12.50 450.50 L11.50 448.50 L11.50 448.50 L12.50 448.50 L12.50 448.50 L12.50 450.50 M17.50 456.50 L17.50 457.50 L19.50 457.50 L20.50 457.50 L21.50 457.50 L22.50 456.50 L22.50 454.50 L22.50 451.50 L23.50 449.50 L24.50 448.50 M20.50 457.50 L20.50 457.50 L21.50 455.50 L21.50 451.50 L22.50 449.50 L23.50 448.50 L24.50 448.50 L25.50 449.50 L25.50 451.50 L25.50 455.50 L25.50 457.50 L24.50 458.50 L23.50 458.50 L22.50 457.50 L21.50 455.50 M6.50 443.50 L21.50 443.50 M6.50 442.50 L21.50 442.50 M13.50 442.50 L12.50 441.50 L11.50 439.50 L11.50 438.50 L12.50 436.50 L13.50 435.50 L21.50 435.50 M11.50 438.50 L12.50 436.50 L13.50 436.50 L21.50 436.50 M6.50 444.50 L6.50 442.50 M21.50 444.50 L21.50 441.50 M21.50 437.50 L21.50 433.50 M6.50 427.50 L18.50 427.50 L20.50 427.50 L21.50 425.50 L21.50 424.50 L20.50 423.50 L19.50 422.50 M6.50 427.50 L18.50 427.50 L20.50 426.50 L21.50 425.50 M11.50 429.50 L11.50 424.50"/>
<path d="M5.50 402.50 L6.50 403.50 L8.50 405.50 L10.50 406.50 L13.50 407.50 L16.50 407.50 L19.50 406.50 L21.50 405.50 L23.50 403.50 L25.50 402.50 M6.50 403.50 L8.50 405.50 L10.50 405.50 L13.50 406.50 L16.50 406.50 L19.50 405.50 L21.50 405.50 L23.50 403.50 M6.50 397.50 L21.50 397.50 M6.50 396.50 L21.50 396.50 M11.50 389.50 L18.50 396.50 M15.50 393.50 L21.50 388.50 M15.50 393.50 L21.50 389.50 M6.50 398.50 L6.50 396.50 M11.50 390.50 L11.50 388.50 M21.50 398.50 L21.50 395.50 M21.50 390.50 L21.50 388.50 M11.50 382.50 L21.50 382.50 M11.50 381.50 L21.50 381.50 M13.50 381.50 L12.50 380.50 L11.50 378.50 L11.50 376.50 L12.50 374.50 L13.50 373.50 L21.50 373.50 M11.50 376.50 L12.50 375.50 L13.50 374.50 L21.50 374.50 M13.50 373.50 L12.50 372.50 L11.50 370.50 L11.50 369.50 L12.50 367.50 L13.50 366.50 L21.50 366.50 M11.50 369.50 L12.50 367.50 L13.50 367.50 L21.50 367.50 M11.50 383.50 L11.50 381.50 M21.50 383.50 L21.50 380.50 M21.50 376.50 L21.50 372.50 M21.50 368.50 L21.50 365.50 M5.50 360.50 L6.50 359.50 L8.50 357.50 L10.50 356.50 L13.50 355.50 L16.50 355.50 L19.50 356.50 L21.50 357.50 L23.50 359.50 L25.50 360.50 M6.50 359.50 L8.50 357.50 L10.50 356.50 L13.50 356.50 L16.50 356.50 L19.50 356.50 L21.50 357.50 L23.50 359.50"/>
</g>
<g fill="none" stroke="#0000c0" stroke-width="1" stroke-linecap="square" stroke-linejoin="miter" shape-rendering="crispEdges">
<path d="M47.50 699.50 L47.50 700.50 L47.50 700.50 L46.50 700.50 L46.50 699.50 L47.50 698.50 L47.50 698.50 L49.50 697.50 L51.50 697.50 L53.50 698.50 L53.50 698.50 L54.50 699.50 L54.50 700.50 L53.50 702.50 L52.50 703.50 L49.50 704.50 L48.50 704.50 L47.50 706.50 L46.50 707.50 L46.50 709.50 M51.50 697.50 L52.50 698.50 L53.50 698.50 L53.50 699.50 L53.50 700.50 L53.50 702.50 L51.50 703.50 L49.50 704.50 M46.50 708.50 L47.50 707.50 L48.50 707.50 L51.50 708.50 L52.50 708.50 L53.50 708.50 L54.50 707.50 M48.50 707.50 L51.50 709.50 L53.50 709.50 L53.50 708.50 L54.50 707.50 L54.50 706.50 M61.50 697.50 L59.50 698.50 L58.50 699.50 L58.50 702.50 L58.50 704.50 L58.50 707.50 L59.50 708.50 L61.50 709.50 L62.50 709.50 L64.50 708.50 L65.50 707.50 L66.50 704.50 L66.50 702.50 L65.50 699.50 L64.50 698.50 L62.50 697.50 L61.50 697.50 M61.50 697.50 L60.50 698.50 L59.50 698.50 L59.50 699.50 L58.50 702.50 L58.50 704.50 L59.50 707.50 L59.50 708.50 L60.50 708.50 L61.50 709.50 M62.50 709.50 L63.50 708.50 L64.50 708.50 L65.50 707.50 L65.50 704.50 L65.50 702.50 L65.50 699.50 L64.50 698.50 L63.50 698.50 L62.50 697.50 M70.50 699.50 L70.50 700.50 L70.50 700.50 L69.50 700.50 L69.50 699.50 L70.50 698.50 L70.50 698.50 L72.50 697.50 L74.50 697.50 L76.50 698.50 L77.50 698.50 L77.50 699.50 L77.50 700.50 L77.50 702.50 L75.50 703.50 L72.50 704.50 L71.50 704.50 L70.50 706.50 L69.50 707.50 L69.50 709.50 M74.50 697.50 L76.50 698.50 L76.50 698.50 L77.50 699.50 L77.50 700.50 L76.50 702.50 L74.50 703.50 L72.50 704.50 M69.50 708.50 L70.50 707.50 L71.50 707.50 L74.50 708.50 L76.50 708.50 L77.50 708.50 L77.50 707.50 M71.50 707.50 L74.50 709.50 L76.50 709.50 L77.50 708.50 L77.50 707.50 L77.50 706.50 M86.50 698.50 L86.50 709.50 M87.50 697.50 L87.50 709.50 M87.50 697.50 L80.50 706.50 L90.50 706.50 M84.50 709.50 L88.50 709.50"/>
<path d="M105.50 697.50 L105.50 707.50 L104.50 708.50 L104.50 709.50 M105.50 697.50 L105.50 707.50 L105.50 708.50 L104.50 709.50 L103.50 709.50 L101.50 708.50 L101.50 707.50 L101.50 706.50 L101.50 706.50 L102.50 706.50 L101.50 707.50 M103.50 697.50 L107.50 697.50 M112.50 701.50 L112.50 707.50 L112.50 708.50 L114.50 709.50 L115.50 709.50 L116.50 708.50 L118.50 707.50 M112.50 701.50 L112.50 707.50 L113.50 708.50 L114.50 709.50 M118.50 701.50 L118.50 709.50 M119.50 701.50 L119.50 709.50 M111.50 701.50 L112.50 701.50 M117.50 701.50 L119.50 701.50 M118.50 709.50 L120.50 709.50 M125.50 697.50 L125.50 709.50 M126.50 697.50 L126.50 709.50 M124.50 697.50 L126.50 697.50 M124.50 709.50 L127.50 709.50"/>
<path d="M139.50 699.50 L140.50 700.50 L139.50 700.50 L139.50 700.50 L139.50 699.50 L139.50 698.50 L140.50 698.50 L142.50 697.50 L144.50 697.50 L146.50 698.50 L146.50 698.50 L147.50 699.50 L147.50 700.50 L146.50 702.50 L145.50 703.50 L142.50 704.50 L141.50 704.50 L139.50 706.50 L139.50 707.50 L139.50 709.50 M144.50 697.50 L145.50 698.50 L146.50 698.50 L146.50 699.50 L146.50 700.50 L146.50 702.50 L144.50 703.50 L142.50 704.50 M139.50 708.50 L139.50 707.50 L141.50 707.50 L144.50 708.50 L145.50 708.50 L146.50 708.50 L147.50 707.50 M141.50 707.50 L144.50 709.50 L146.50 709.50 L146.50 708.50 L147.50 707.50 L147.50 706.50 M154.50 697.50 L152.50 698.50 L151.50 699.50 L151.50 702.50 L151.50 704.50 L151.50 707.50 L152.50 708.50 L154.50 709.50 L155.50 709.50 L157.50 708.50 L158.50 707.50 L159.50 704.50 L159.50 702.50 L158.50 699.50 L157.50 698.50 L155.50 697.50 L154.50 697.50 M154.50 697.50 L153.50 698.50 L152.50 698.50 L152.50 699.50 L151.50 702.50 L151.50 704.50 L152.50 707.50 L152.50 708.50 L153.50 708.50 L154.50 709.50 M155.50 709.50 L156.50 708.50 L157.50 708.50 L157.50 707.50 L158.50 704.50 L158.50 702.50 L157.50 699.50 L157.50 698.50 L156.50 698.50 L155.50 697.50"/>
<path d="M181.50 697.50 L181.50 707.50 L180.50 708.50 L180.50 709.50 M182.50 697.50 L182.50 707.50 L181.50 708.50 L180.50 709.50 L179.50 709.50 L177.50 708.50 L177.50 707.50 L177.50 706.50 L177.50 706.50 L178.50 706.50 L177.50 707.50 M179.50 697.50 L183.50 697.50 M188.50 701.50 L188.50 707.50 L189.50 708.50 L190.50 709.50 L191.50 709.50 L193.50 708.50 L194.50 707.50 M189.50 701.50 L189.50 707.50 L189.50 708.50 L190.50 709.50 M194.50 701.50 L194.50 709.50 M195.50 701.50 L195.50 709.50 M187.50 701.50 L189.50 701.50 M193.50 701.50 L195.50 701.50 M194.50 709.50 L196.50 709.50 M201.50 697.50 L201.50 709.50 M202.50 697.50 L202.50 709.50 M200.50 697.50 L202.50 697.50 M200.50 709.50 L203.50 709.50"/>
<path d="M215.50 699.50 L216.50 700.50 L215.50 700.50 L215.50 700.50 L215.50 699.50 L215.50 698.50 L216.50 698.50 L218.50 697.50 L220.50 697.50 L222.50 698.50 L222.50 699.50 L222.50 700.50 L222.50 702.50 L220.50 702.50 L218.50 702.50 M220.50 697.50 L221.50 698.50 L222.50 699.50 L222.50 700.50 L221.50 702.50 L220.50 702.50 M220.50 702.50 L221.50 703.50 L222.50 704.50 L223.50 705.50 L223.50 707.50 L222.50 708.50 L222.50 708.50 L220.50 709.50 L218.50 709.50 L216.50 708.50 L215.50 708.50 L215.50 707.50 L215.50 706.50 L215.50 706.50 L216.50 706.50 L215.50 707.50 M222.50 703.50 L222.50 705.50 L222.50 707.50 L222.50 708.50 L221.50 708.50 L220.50 709.50 M230.50 697.50 L228.50 698.50 L227.50 699.50 L227.50 702.50 L227.50 704.50 L227.50 707.50 L228.50 708.50 L230.50 709.50 L231.50 709.50 L233.50 708.50 L234.50 707.50 L235.50 704.50 L235.50 702.50 L234.50 699.50 L233.50 698.50 L231.50 697.50 L230.50 697.50 M230.50 697.50 L229.50 698.50 L228.50 698.50 L228.50 699.50 L227.50 702.50 L227.50 704.50 L228.50 707.50 L228.50 708.50 L229.50 708.50 L230.50 709.50 M231.50 709.50 L232.50 708.50 L233.50 708.50 L233.50 707.50 L234.50 704.50 L234.50 702.50 L233.50 699.50 L233.50 698.50 L232.50 698.50 L231.50 697.50"/>
<path d="M283.50 697.50 L279.50 709.50 M283.50 697.50 L287.50 709.50 M283.50 699.50 L287.50 709.50 M281.50 706.50 L286.50 706.50 M278.50 709.50 L282.50 709.50 M285.50 709.50 L289.50 709.50 M292.50 701.50 L292.50 707.50 L293.50 708.50 L294.50 709.50 L296.50 709.50 L297.50 708.50 L299.50 707.50 M293.50 701.50 L293.50 707.50 L293.50 708.50 L294.50 709.50 M299.50 701.50 L299.50 709.50 M299.50 701.50 L299.50 709.50 M291.50 701.50 L293.50 701.50 M297.50 701.50 L299.50 701.50 M299.50 709.50 L300.50 709.50 M307.50 701.50 L306.50 702.50 L305.50 702.50 L305.50 703.50 L305.50 704.50 L305.50 706.50 L306.50 706.50 L307.50 707.50 L308.50 707.50 L310.50 706.50 L310.50 706.50 L311.50 704.50 L311.50 703.50 L310.50 702.50 L310.50 702.50 L308.50 701.50 L307.50 701.50 M306.50 702.50 L305.50 703.50 L305.50 705.50 L306.50 706.50 M310.50 706.50 L310.50 705.50 L310.50 703.50 L310.50 702.50 M310.50 702.50 L311.50 702.50 L312.50 701.50 L312.50 701.50 L312.50 702.50 L312.50 702.50 L311.50 702.50 M305.50 706.50 L305.50 706.50 L304.50 707.50 L304.50 708.50 L305.50 709.50 L305.50 710.50 L307.50 710.50 L310.50 710.50 L311.50 711.50 L312.50 711.50 M304.50 708.50 L305.50 708.50 L307.50 709.50 L310.50 709.50 L311.50 710.50 L312.50 711.50 L312.50 711.50 L311.50 712.50 L310.50 712.50 L306.50 712.50 L304.50 712.50 L304.50 711.50 L304.50 711.50 L304.50 710.50 L306.50 709.50"/>
<path d="M341.50 701.50 L340.50 703.50 L339.50 704.50 L337.50 704.50 L337.50 704.50 L335.50 704.50 L334.50 703.50 L333.50 701.50 L333.50 700.50 L334.50 699.50 L335.50 698.50 L337.50 697.50 L338.50 697.50 L339.50 698.50 L341.50 699.50 L341.50 700.50 L341.50 704.50 L341.50 706.50 L340.50 707.50 L339.50 708.50 L337.50 709.50 L335.50 709.50 L334.50 708.50 L334.50 707.50 L334.50 707.50 L334.50 706.50 L335.50 707.50 L334.50 707.50 M337.50 704.50 L335.50 704.50 L334.50 703.50 L334.50 701.50 L334.50 700.50 L334.50 699.50 L335.50 698.50 L337.50 697.50 M338.50 697.50 L339.50 698.50 L340.50 699.50 L341.50 700.50 L341.50 704.50 L340.50 706.50 L339.50 707.50 L338.50 708.50 L337.50 709.50"/>
<path d="M386.50 697.50 L382.50 709.50 M386.50 697.50 L390.50 709.50 M386.50 699.50 L390.50 709.50 M383.50 706.50 L389.50 706.50 M381.50 709.50 L385.50 709.50 M388.50 709.50 L392.50 709.50 M395.50 701.50 L395.50 707.50 L396.50 708.50 L397.50 709.50 L399.50 709.50 L400.50 708.50 L401.50 707.50 M396.50 701.50 L396.50 707.50 L396.50 708.50 L397.50 709.50 M401.50 701.50 L401.50 709.50 M402.50 701.50 L402.50 709.50 M394.50 701.50 L396.50 701.50 M400.50 701.50 L402.50 701.50 M401.50 709.50 L403.50 709.50 M410.50 701.50 L409.50 702.50 L408.50 702.50 L408.50 703.50 L408.50 704.50 L408.50 706.50 L409.50 706.50 L410.50 707.50 L411.50 707.50 L412.50 706.50 L413.50 706.50 L414.50 704.50 L414.50 703.50 L413.50 702.50 L412.50 702.50 L411.50 701.50 L410.50 701.50 M409.50 702.50 L408.50 703.50 L408.50 705.50 L409.50 706.50 M412.50 706.50 L413.50 705.50 L413.50 703.50 L412.50 702.50 M413.50 702.50 L414.50 702.50 L415.50 701.50 L415.50 701.50 L415.50 702.50 L415.50 702.50 L414.50 702.50 M408.50 706.50 L408.50 706.50 L407.50 707.50 L407.50 708.50 L408.50 709.50 L408.50 710.50 L410.50 710.50 L412.50 710.50 L414.50 711.50 L415.50 711.50 M407.50 708.50 L408.50 708.50 L410.50 709.50 L412.50 709.50 L414.50 710.50 L415.50 711.50 L415.50 711.50 L414.50 712.50 L412.50 712.50 L409.50 712.50 L407.50 712.50 L407.50 711.50 L407.50 711.50 L407.50 710.50 L409.50 709.50"/>
<path d="M428.50 699.50 L429.50 699.50 L431.50 697.50 L431.50 709.50 M430.50 698.50 L430.50 709.50 M428.50 709.50 L433.50 709.50 M446.50 701.50 L445.50 703.50 L444.50 704.50 L442.50 704.50 L441.50 704.50 L440.50 704.50 L439.50 703.50 L438.50 701.50 L438.50 700.50 L439.50 699.50 L440.50 698.50 L441.50 697.50 L443.50 697.50 L444.50 698.50 L446.50 699.50 L446.50 700.50 L446.50 704.50 L446.50 706.50 L445.50 707.50 L444.50 708.50 L442.50 709.50 L440.50 709.50 L439.50 708.50 L439.50 707.50 L439.50 707.50 L439.50 706.50 L440.50 707.50 L439.50 707.50 M441.50 704.50 L440.50 704.50 L439.50 703.50 L439.50 701.50 L439.50 700.50 L439.50 699.50 L440.50 698.50 L441.50 697.50 M443.50 697.50 L444.50 698.50 L445.50 699.50 L446.50 700.50 L446.50 704.50 L445.50 706.50 L444.50 707.50 L443.50 708.50 L442.50 709.50"/>
<path d="M489.50 697.50 L485.50 709.50 M489.50 697.50 L494.50 709.50 M489.50 699.50 L493.50 709.50 M487.50 706.50 L492.50 706.50 M484.50 709.50 L488.50 709.50 M491.50 709.50 L495.50 709.50 M498.50 701.50 L498.50 707.50 L499.50 708.50 L500.50 709.50 L502.50 709.50 L503.50 708.50 L505.50 707.50 M499.50 701.50 L499.50 707.50 L499.50 708.50 L500.50 709.50 M505.50 701.50 L505.50 709.50 M505.50 701.50 L505.50 709.50 M497.50 701.50 L499.50 701.50 M503.50 701.50 L505.50 701.50 M505.50 709.50 L506.50 709.50 M513.50 701.50 L512.50 702.50 L512.50 702.50 L511.50 703.50 L511.50 704.50 L512.50 706.50 L512.50 706.50 L513.50 707.50 L514.50 707.50 L516.50 706.50 L516.50 706.50 L517.50 704.50 L517.50 703.50 L516.50 702.50 L516.50 702.50 L514.50 701.50 L513.50 701.50 M512.50 702.50 L512.50 703.50 L512.50 705.50 L512.50 706.50 M516.50 706.50 L516.50 705.50 L516.50 703.50 L516.50 702.50 M516.50 702.50 L517.50 702.50 L518.50 701.50 L518.50 701.50 L518.50 702.50 L518.50 702.50 L517.50 702.50 M512.50 706.50 L511.50 706.50 L510.50 707.50 L510.50 708.50 L511.50 709.50 L512.50 710.50 L513.50 710.50 L516.50 710.50 L517.50 711.50 L518.50 711.50 M510.50 708.50 L511.50 708.50 L513.50 709.50 L516.50 709.50 L517.50 710.50 L518.50 711.50 L518.50 711.50 L517.50 712.50 L516.50 712.50 L512.50 712.50 L510.50 712.50 L510.50 711.50 L510.50 711.50 L510.50 710.50 L512.50 709.50"/>
<path d="M530.50 699.50 L530.50 700.50 L530.50 700.50 L529.50 700.50 L529.50 699.50 L530.50 698.50 L530.50 698.50 L532.50 697.50 L534.50 697.50 L536.50 698.50 L537.50 698.50 L537.50 699.50 L537.50 700.50 L537.50 702.50 L535.50 703.50 L532.50 704.50 L531.50 704.50 L530.50 706.50 L529.50 707.50 L529.50 709.50 M534.50 697.50 L536.50 698.50 L536.50 698.50 L537.50 699.50 L537.50 700.50 L536.50 702.50 L534.50 703.50 L532.50 704.50 M529.50 708.50 L530.50 707.50 L531.50 707.50 L534.50 708.50 L536.50 708.50 L537.50 708.50 L537.50 707.50 M531.50 707.50 L534.50 709.50 L536.50 709.50 L537.50 708.50 L537.50 707.50 L537.50 706.50 M548.50 701.50 L548.50 703.50 L547.50 704.50 L545.50 704.50 L544.50 704.50 L543.50 704.50 L541.50 703.50 L541.50 701.50 L541.50 700.50 L541.50 699.50 L543.50 698.50 L544.50 697.50 L545.50 697.50 L547.50 698.50 L548.50 699.50 L549.50 700.50 L549.50 704.50 L548.50 706.50 L548.50 707.50 L547.50 708.50 L545.50 709.50 L543.50 709.50 L542.50 708.50 L541.50 707.50 L541.50 707.50 L542.50 706.50 L543.50 707.50 L542.50 707.50 M544.50 704.50 L543.50 704.50 L542.50 703.50 L541.50 701.50 L541.50 700.50 L542.50 699.50 L543.50 698.50 L544.50 697.50 M545.50 697.50 L547.50 698.50 L548.50 699.50 L548.50 700.50 L548.50 704.50 L548.50 706.50 L547.50 707.50 L546.50 708.50 L545.50 709.50"/>
<path d="M597.50 699.50 L598.50 697.50 L598.50 700.50 L597.50 699.50 L596.50 698.50 L594.50 697.50 L593.50 697.50 L591.50 698.50 L590.50 699.50 L590.50 700.50 L590.50 701.50 L591.50 702.50 L592.50 702.50 L596.50 703.50 L597.50 704.50 L598.50 705.50 M590.50 700.50 L591.50 701.50 L592.50 702.50 L596.50 703.50 L597.50 703.50 L597.50 704.50 L598.50 705.50 L598.50 707.50 L597.50 708.50 L595.50 709.50 L593.50 709.50 L592.50 708.50 L590.50 707.50 L590.50 706.50 L590.50 709.50 L590.50 707.50 M601.50 704.50 L608.50 704.50 L608.50 703.50 L608.50 702.50 L607.50 702.50 L606.50 701.50 L604.50 701.50 L603.50 702.50 L601.50 703.50 L601.50 704.50 L601.50 706.50 L601.50 707.50 L603.50 708.50 L604.50 709.50 L605.50 709.50 L607.50 708.50 L608.50 707.50 M608.50 704.50 L608.50 703.50 L607.50 702.50 M604.50 701.50 L603.50 702.50 L602.50 703.50 L601.50 704.50 L601.50 706.50 L602.50 707.50 L603.50 708.50 L604.50 709.50 M613.50 701.50 L613.50 713.50 M614.50 701.50 L614.50 713.50 M614.50 703.50 L615.50 702.50 L616.50 701.50 L617.50 701.50 L619.50 702.50 L620.50 703.50 L621.50 704.50 L621.50 706.50 L620.50 707.50 L619.50 708.50 L617.50 709.50 L616.50 709.50 L615.50 708.50 L614.50 707.50 M617.50 701.50 L618.50 702.50 L619.50 703.50 L620.50 704.50 L620.50 706.50 L619.50 707.50 L618.50 708.50 L617.50 709.50 M612.50 701.50 L614.50 701.50 M612.50 713.50 L615.50 713.50"/>
<path d="M646.50 697.50 L644.50 698.50 L644.50 699.50 L644.50 700.50 L644.50 702.50 L646.50 702.50 L648.50 702.50 L650.50 702.50 L651.50 700.50 L651.50 699.50 L650.50 698.50 L648.50 697.50 L646.50 697.50 M646.50 697.50 L645.50 698.50 L644.50 699.50 L644.50 700.50 L645.50 702.50 L646.50 702.50 M648.50 702.50 L649.50 702.50 L650.50 700.50 L650.50 699.50 L649.50 698.50 L648.50 697.50 M646.50 702.50 L644.50 703.50 L644.50 703.50 L643.50 704.50 L643.50 707.50 L644.50 708.50 L644.50 708.50 L646.50 709.50 L648.50 709.50 L650.50 708.50 L651.50 708.50 L651.50 707.50 L651.50 704.50 L651.50 703.50 L650.50 703.50 L648.50 702.50 M646.50 702.50 L645.50 703.50 L644.50 703.50 L644.50 704.50 L644.50 707.50 L644.50 708.50 L645.50 708.50 L646.50 709.50 M648.50 709.50 L649.50 708.50 L650.50 708.50 L651.50 707.50 L651.50 704.50 L650.50 703.50 L649.50 703.50 L648.50 702.50"/>
<path d="M699.50 699.50 L700.50 697.50 L700.50 700.50 L699.50 699.50 L698.50 698.50 L697.50 697.50 L695.50 697.50 L693.50 698.50 L692.50 699.50 L692.50 700.50 L692.50 701.50 L693.50 702.50 L694.50 702.50 L698.50 703.50 L699.50 704.50 L700.50 705.50 M692.50 700.50 L693.50 701.50 L694.50 702.50 L698.50 703.50 L699.50 703.50 L699.50 704.50 L700.50 705.50 L700.50 707.50 L699.50 708.50 L697.50 709.50 L695.50 709.50 L694.50 708.50 L692.50 707.50 L692.50 706.50 L692.50 709.50 L692.50 707.50 M704.50 704.50 L710.50 704.50 L710.50 703.50 L710.50 702.50 L709.50 702.50 L708.50 701.50 L706.50 701.50 L705.50 702.50 L704.50 703.50 L703.50 704.50 L703.50 706.50 L704.50 707.50 L705.50 708.50 L706.50 709.50 L708.50 709.50 L709.50 708.50 L710.50 707.50 M710.50 704.50 L710.50 703.50 L709.50 702.50 M706.50 701.50 L705.50 702.50 L704.50 703.50 L704.50 704.50 L704.50 706.50 L704.50 707.50 L705.50 708.50 L706.50 709.50 M715.50 701.50 L715.50 713.50 M716.50 701.50 L716.50 713.50 M716.50 703.50 L717.50 702.50 L718.50 701.50 L719.50 701.50 L721.50 702.50 L722.50 703.50 L723.50 704.50 L723.50 706.50 L722.50 707.50 L721.50 708.50 L719.50 709.50 L718.50 709.50 L717.50 708.50 L716.50 707.50 M719.50 701.50 L720.50 702.50 L721.50 703.50 L722.50 704.50 L722.50 706.50 L721.50 707.50 L720.50 708.50 L719.50 709.50 M714.50 701.50 L716.50 701.50 M714.50 713.50 L717.50 713.50"/>
<path d="M738.50 699.50 L739.50 699.50 L741.50 697.50 L741.50 709.50 M740.50 698.50 L740.50 709.50 M738.50 709.50 L743.50 709.50 M751.50 697.50 L749.50 698.50 L749.50 699.50 L749.50 700.50 L749.50 702.50 L751.50 702.50 L753.50 702.50 L755.50 702.50 L756.50 700.50 L756.50 699.50 L755.50 698.50 L753.50 697.50 L751.50 697.50 M751.50 697.50 L750.50 698.50 L749.50 699.50 L749.50 700.50 L750.50 702.50 L751.50 702.50 M753.50 702.50 L754.50 702.50 L755.50 700.50 L755.50 699.50 L754.50 698.50 L753.50 697.50 M751.50 702.50 L749.50 703.50 L749.50 703.50 L748.50 704.50 L748.50 707.50 L749.50 708.50 L749.50 708.50 L751.50 709.50 L753.50 709.50 L755.50 708.50 L756.50 708.50 L756.50 707.50 L756.50 704.50 L756.50 703.50 L755.50 703.50 L753.50 702.50 M751.50 702.50 L750.50 703.50 L749.50 703.50 L749.50 704.50 L749.50 707.50 L749.50 708.50 L750.50 708.50 L751.50 709.50 M753.50 709.50 L754.50 708.50 L755.50 708.50 L756.50 707.50 L756.50 704.50 L755.50 703.50 L754.50 703.50 L753.50 702.50"/>
<path d="M803.50 699.50 L804.50 697.50 L804.50 700.50 L803.50 699.50 L802.50 698.50 L800.50 697.50 L799.50 697.50 L797.50 698.50 L796.50 699.50 L796.50 700.50 L796.50 701.50 L797.50 702.50 L798.50 702.50 L802.50 703.50 L803.50 704.50 L804.50 705.50 M796.50 700.50 L797.50 701.50 L798.50 702.50 L802.50 703.50 L803.50 703.50 L803.50 704.50 L804.50 705.50 L804.50 707.50 L803.50 708.50 L801.50 709.50 L799.50 709.50 L798.50 708.50 L796.50 707.50 L796.50 706.50 L796.50 709.50 L796.50 707.50 M807.50 704.50 L814.50 704.50 L814.50 703.50 L814.50 702.50 L813.50 702.50 L812.50 701.50 L810.50 701.50 L809.50 702.50 L807.50 703.50 L807.50 704.50 L807.50 706.50 L807.50 707.50 L809.50 708.50 L810.50 709.50 L811.50 709.50 L813.50 708.50 L814.50 707.50 M814.50 704.50 L814.50 703.50 L813.50 702.50 M810.50 701.50 L809.50 702.50 L808.50 703.50 L807.50 704.50 L807.50 706.50 L808.50 707.50 L809.50 708.50 L810.50 709.50 M819.50 701.50 L819.50 713.50 M820.50 701.50 L820.50 713.50 M820.50 703.50 L821.50 702.50 L822.50 701.50 L823.50 701.50 L825.50 702.50 L826.50 703.50 L827.50 704.50 L827.50 706.50 L826.50 707.50 L825.50 708.50 L823.50 709.50 L822.50 709.50 L821.50 708.50 L820.50 707.50 M823.50 701.50 L824.50 702.50 L825.50 703.50 L826.50 704.50 L826.50 706.50 L825.50 707.50 L824.50 708.50 L823.50 709.50 M818.50 701.50 L820.50 701.50 M818.50 713.50 L821.50 713.50"/>
<path d="M841.50 699.50 L841.50 700.50 L841.50 700.50 L840.50 700.50 L840.50 699.50 L841.50 698.50 L841.50 698.50 L843.50 697.50 L845.50 697.50 L847.50 698.50 L848.50 698.50 L848.50 699.50 L848.50 700.50 L848.50 702.50 L846.50 703.50 L843.50 704.50 L842.50 704.50 L841.50 706.50 L840.50 707.50 L840.50 709.50 M845.50 697.50 L847.50 698.50 L847.50 698.50 L848.50 699.50 L848.50 700.50 L847.50 702.50 L845.50 703.50 L843.50 704.50 M840.50 708.50 L841.50 707.50 L842.50 707.50 L845.50 708.50 L847.50 708.50 L848.50 708.50 L848.50 707.50 M842.50 707.50 L845.50 709.50 L847.50 709.50 L848.50 708.50 L848.50 707.50 L848.50 706.50 M855.50 697.50 L853.50 698.50 L852.50 699.50 L852.50 700.50 L853.50 702.50 L855.50 702.50 L857.50 702.50 L859.50 702.50 L859.50 700.50 L859.50 699.50 L859.50 698.50 L857.50 697.50 L855.50 697.50 M855.50 697.50 L854.50 698.50 L853.50 699.50 L853.50 700.50 L854.50 702.50 L855.50 702.50 M857.50 702.50 L858.50 702.50 L859.50 700.50 L859.50 699.50 L858.50 698.50 L857.50 697.50 M855.50 702.50 L853.50 703.50 L852.50 703.50 L852.50 704.50 L852.50 707.50 L852.50 708.50 L853.50 708.50 L855.50 709.50 L857.50 709.50 L859.50 708.50 L859.50 708.50 L860.50 707.50 L860.50 704.50 L859.50 703.50 L859.50 703.50 L857.50 702.50 M855.50 702.50 L854.50 703.50 L853.50 703.50 L852.50 704.50 L852.50 707.50 L853.50 708.50 L854.50 708.50 L855.50 709.50 M857.50 709.50 L858.50 708.50 L859.50 708.50 L859.50 707.50 L859.50 704.50 L859.50 703.50 L858.50 703.50 L857.50 702.50"/>
<path d="M906.50 697.50 L904.50 698.50 L903.50 699.50 L902.50 700.50 L902.50 702.50 L902.50 704.50 L902.50 706.50 L903.50 707.50 L904.50 708.50 L906.50 709.50 L907.50 709.50 L909.50 708.50 L910.50 707.50 L911.50 706.50 L911.50 704.50 L911.50 702.50 L911.50 700.50 L910.50 699.50 L909.50 698.50 L907.50 697.50 L906.50 697.50 M906.50 697.50 L905.50 698.50 L904.50 699.50 L903.50 700.50 L902.50 702.50 L902.50 704.50 L903.50 706.50 L904.50 707.50 L905.50 708.50 L906.50 709.50 M907.50 709.50 L908.50 708.50 L909.50 707.50 L910.50 706.50 L911.50 704.50 L911.50 702.50 L910.50 700.50 L909.50 699.50 L908.50 698.50 L907.50 697.50 M921.50 703.50 L920.50 703.50 L921.50 704.50 L922.50 703.50 L922.50 703.50 L920.50 702.50 L919.50 701.50 L918.50 701.50 L916.50 702.50 L915.50 703.50 L914.50 704.50 L914.50 706.50 L915.50 707.50 L916.50 708.50 L918.50 709.50 L919.50 709.50 L920.50 708.50 L922.50 707.50 M918.50 701.50 L916.50 702.50 L915.50 703.50 L915.50 704.50 L915.50 706.50 L915.50 707.50 L916.50 708.50 L918.50 709.50 M926.50 697.50 L926.50 707.50 L927.50 708.50 L928.50 709.50 L929.50 709.50 L930.50 708.50 L931.50 707.50 M927.50 697.50 L927.50 707.50 L927.50 708.50 L928.50 709.50 M925.50 701.50 L929.50 701.50"/>
<path d="M956.50 697.50 L954.50 698.50 L953.50 699.50 L953.50 700.50 L954.50 702.50 L956.50 702.50 L958.50 702.50 L960.50 702.50 L960.50 700.50 L960.50 699.50 L960.50 698.50 L958.50 697.50 L956.50 697.50 M956.50 697.50 L955.50 698.50 L954.50 699.50 L954.50 700.50 L955.50 702.50 L956.50 702.50 M958.50 702.50 L959.50 702.50 L960.50 700.50 L960.50 699.50 L959.50 698.50 L958.50 697.50 M956.50 702.50 L954.50 703.50 L953.50 703.50 L953.50 704.50 L953.50 707.50 L953.50 708.50 L954.50 708.50 L956.50 709.50 L958.50 709.50 L960.50 708.50 L960.50 708.50 L961.50 707.50 L961.50 704.50 L960.50 703.50 L960.50 703.50 L958.50 702.50 M956.50 702.50 L955.50 703.50 L954.50 703.50 L953.50 704.50 L953.50 707.50 L954.50 708.50 L955.50 708.50 L956.50 709.50 M958.50 709.50 L959.50 708.50 L960.50 708.50 L960.50 707.50 L960.50 704.50 L960.50 703.50 L959.50 703.50 L958.50 702.50"/>
<path d="M65.50 193.50 L65.50 204.50 M65.50 192.50 L65.50 204.50 M65.50 192.50 L59.50 201.50 L69.50 201.50 M63.50 204.50 L67.50 204.50 M75.50 192.50 L73.50 193.50 L72.50 194.50 L71.50 197.50 L71.50 199.50 L72.50 202.50 L73.50 203.50 L75.50 204.50 L76.50 204.50 L78.50 203.50 L79.50 202.50 L79.50 199.50 L79.50 197.50 L79.50 194.50 L78.50 193.50 L76.50 192.50 L75.50 192.50 M75.50 192.50 L74.50 193.50 L73.50 193.50 L72.50 194.50 L72.50 197.50 L72.50 199.50 L72.50 202.50 L73.50 203.50 L74.50 203.50 L75.50 204.50 M76.50 204.50 L77.50 203.50 L78.50 203.50 L78.50 202.50 L79.50 199.50 L79.50 197.50 L78.50 194.50 L78.50 193.50 L77.50 193.50 L76.50 192.50 M86.50 192.50 L85.50 193.50 L83.50 194.50 L83.50 197.50 L83.50 199.50 L83.50 202.50 L85.50 203.50 L86.50 204.50 L88.50 204.50 L89.50 203.50 L90.50 202.50 L91.50 199.50 L91.50 197.50 L90.50 194.50 L89.50 193.50 L88.50 192.50 L86.50 192.50 M86.50 192.50 L85.50 193.50 L85.50 193.50 L84.50 194.50 L83.50 197.50 L83.50 199.50 L84.50 202.50 L85.50 203.50 L85.50 203.50 L86.50 204.50 M88.50 204.50 L89.50 203.50 L89.50 203.50 L90.50 202.50 L90.50 199.50 L90.50 197.50 L90.50 194.50 L89.50 193.50 L89.50 193.50 L88.50 192.50"/>
<path d="M60.50 374.50 L61.50 375.50 L60.50 375.50 L60.50 375.50 L60.50 374.50 L60.50 373.50 L61.50 373.50 L63.50 372.50 L65.50 372.50 L67.50 373.50 L67.50 374.50 L67.50 375.50 L67.50 377.50 L65.50 377.50 L63.50 377.50 M65.50 372.50 L66.50 373.50 L67.50 374.50 L67.50 375.50 L66.50 377.50 L65.50 377.50 M65.50 377.50 L66.50 378.50 L67.50 379.50 L68.50 380.50 L68.50 382.50 L67.50 383.50 L67.50 383.50 L65.50 384.50 L63.50 384.50 L61.50 383.50 L60.50 383.50 L60.50 382.50 L60.50 381.50 L60.50 381.50 L61.50 381.50 L60.50 382.50 M67.50 378.50 L67.50 380.50 L67.50 382.50 L67.50 383.50 L66.50 383.50 L65.50 384.50 M75.50 372.50 L73.50 373.50 L72.50 374.50 L71.50 377.50 L71.50 379.50 L72.50 382.50 L73.50 383.50 L75.50 384.50 L76.50 384.50 L78.50 383.50 L79.50 382.50 L80.50 379.50 L80.50 377.50 L79.50 374.50 L78.50 373.50 L76.50 372.50 L75.50 372.50 M75.50 372.50 L74.50 373.50 L73.50 373.50 L73.50 374.50 L72.50 377.50 L72.50 379.50 L73.50 382.50 L73.50 383.50 L74.50 383.50 L75.50 384.50 M76.50 384.50 L77.50 383.50 L78.50 383.50 L78.50 382.50 L79.50 379.50 L79.50 377.50 L78.50 374.50 L78.50 373.50 L77.50 373.50 L76.50 372.50 M86.50 372.50 L85.50 373.50 L84.50 374.50 L83.50 377.50 L83.50 379.50 L84.50 382.50 L85.50 383.50 L86.50 384.50 L88.50 384.50 L89.50 383.50 L91.50 382.50 L91.50 379.50 L91.50 377.50 L91.50 374.50 L89.50 373.50 L88.50 372.50 L86.50 372.50 M86.50 372.50 L85.50 373.50 L85.50 373.50 L84.50 374.50 L84.50 377.50 L84.50 379.50 L84.50 382.50 L85.50 383.50 L85.50 383.50 L86.50 384.50 M88.50 384.50 L89.50 383.50 L89.50 383.50 L90.50 382.50 L91.50 379.50 L91.50 377.50 L90.50 374.50 L89.50 373.50 L89.50 373.50 L88.50 372.50"/>
<path d="M60.50 554.50 L61.50 554.50 L60.50 555.50 L60.50 554.50 L60.50 554.50 L60.50 553.50 L61.50 552.50 L63.50 552.50 L65.50 552.50 L67.50 552.50 L67.50 553.50 L68.50 554.50 L68.50 555.50 L67.50 556.50 L66.50 557.50 L63.50 558.50 L62.50 559.50 L60.50 560.50 L60.50 562.50 L60.50 564.50 M65.50 552.50 L66.50 552.50 L67.50 553.50 L67.50 554.50 L67.50 555.50 L67.50 556.50 L65.50 557.50 L63.50 558.50 M60.50 562.50 L60.50 562.50 L62.50 562.50 L64.50 563.50 L66.50 563.50 L67.50 562.50 L68.50 562.50 M62.50 562.50 L64.50 564.50 L67.50 564.50 L67.50 563.50 L68.50 562.50 L68.50 561.50 M75.50 552.50 L73.50 552.50 L72.50 554.50 L71.50 557.50 L71.50 558.50 L72.50 561.50 L73.50 563.50 L75.50 564.50 L76.50 564.50 L78.50 563.50 L79.50 561.50 L80.50 558.50 L80.50 557.50 L79.50 554.50 L78.50 552.50 L76.50 552.50 L75.50 552.50 M75.50 552.50 L74.50 552.50 L73.50 553.50 L73.50 554.50 L72.50 557.50 L72.50 558.50 L73.50 561.50 L73.50 562.50 L74.50 563.50 L75.50 564.50 M76.50 564.50 L77.50 563.50 L78.50 562.50 L78.50 561.50 L79.50 558.50 L79.50 557.50 L78.50 554.50 L78.50 553.50 L77.50 552.50 L76.50 552.50 M86.50 552.50 L85.50 552.50 L84.50 554.50 L83.50 557.50 L83.50 558.50 L84.50 561.50 L85.50 563.50 L86.50 564.50 L88.50 564.50 L89.50 563.50 L91.50 561.50 L91.50 558.50 L91.50 557.50 L91.50 554.50 L89.50 552.50 L88.50 552.50 L86.50 552.50 M86.50 552.50 L85.50 552.50 L85.50 553.50 L84.50 554.50 L84.50 557.50 L84.50 558.50 L84.50 561.50 L85.50 562.50 L85.50 563.50 L86.50 564.50 M88.50 564.50 L89.50 563.50 L89.50 562.50 L90.50 561.50 L91.50 558.50 L91.50 557.50 L90.50 554.50 L89.50 553.50 L89.50 552.50 L88.50 552.50"/>
<path d="M430.50 23.50 L430.50 21.50 L430.50 26.50 L430.50 23.50 L428.50 22.50 L426.50 21.50 L424.50 21.50 L421.50 22.50 L420.50 23.50 L420.50 25.50 L420.50 26.50 L421.50 27.50 L423.50 28.50 L427.50 29.50 L429.50 30.50 L430.50 32.50 M420.50 25.50 L421.50 26.50 L423.50 27.50 L427.50 29.50 L429.50 29.50 L430.50 30.50 L430.50 32.50 L430.50 35.50 L429.50 36.50 L427.50 37.50 L424.50 37.50 L422.50 36.50 L420.50 35.50 L420.50 32.50 L420.50 37.50 L420.50 35.50 M436.50 26.50 L436.50 42.50 M437.50 26.50 L437.50 42.50 M437.50 29.50 L439.50 27.50 L440.50 26.50 L442.50 26.50 L444.50 27.50 L446.50 29.50 L446.50 31.50 L446.50 32.50 L446.50 35.50 L444.50 36.50 L442.50 37.50 L440.50 37.50 L439.50 36.50 L437.50 35.50 M442.50 26.50 L443.50 27.50 L445.50 29.50 L446.50 31.50 L446.50 32.50 L445.50 35.50 L443.50 36.50 L442.50 37.50 M435.50 26.50 L437.50 26.50 M435.50 42.50 L440.50 42.50 M454.50 28.50 L454.50 29.50 L453.50 29.50 L453.50 28.50 L454.50 27.50 L456.50 26.50 L459.50 26.50 L460.50 27.50 L461.50 28.50 L462.50 29.50 L462.50 35.50 L462.50 36.50 L463.50 37.50 M461.50 28.50 L461.50 35.50 L462.50 36.50 L463.50 37.50 L464.50 37.50 M461.50 29.50 L460.50 30.50 L456.50 31.50 L453.50 32.50 L452.50 33.50 L452.50 35.50 L453.50 36.50 L456.50 37.50 L458.50 37.50 L459.50 36.50 L461.50 35.50 M456.50 31.50 L454.50 32.50 L453.50 33.50 L453.50 35.50 L454.50 36.50 L456.50 37.50 M476.50 29.50 L475.50 29.50 L476.50 30.50 L477.50 29.50 L477.50 29.50 L475.50 27.50 L474.50 26.50 L472.50 26.50 L469.50 27.50 L468.50 29.50 L467.50 31.50 L467.50 32.50 L468.50 35.50 L469.50 36.50 L472.50 37.50 L473.50 37.50 L475.50 36.50 L477.50 35.50 M472.50 26.50 L470.50 27.50 L468.50 29.50 L468.50 31.50 L468.50 32.50 L468.50 35.50 L470.50 36.50 L472.50 37.50 M481.50 31.50 L491.50 31.50 L491.50 29.50 L490.50 28.50 L489.50 27.50 L488.50 26.50 L485.50 26.50 L483.50 27.50 L481.50 29.50 L481.50 31.50 L481.50 32.50 L481.50 35.50 L483.50 36.50 L485.50 37.50 L487.50 37.50 L489.50 36.50 L491.50 35.50 M490.50 31.50 L490.50 29.50 L489.50 27.50 M485.50 26.50 L484.50 27.50 L482.50 29.50 L481.50 31.50 L481.50 32.50 L482.50 35.50 L484.50 36.50 L485.50 37.50 M497.50 21.50 L497.50 37.50 M497.50 21.50 L497.50 37.50 M494.50 21.50 L504.50 21.50 L506.50 22.50 L507.50 23.50 L507.50 24.50 L507.50 26.50 L507.50 27.50 L506.50 28.50 L504.50 29.50 M504.50 21.50 L505.50 22.50 L506.50 23.50 L507.50 24.50 L507.50 26.50 L506.50 27.50 L505.50 28.50 L504.50 29.50 M497.50 29.50 L504.50 29.50 L506.50 29.50 L507.50 30.50 L507.50 32.50 L507.50 34.50 L507.50 35.50 L506.50 36.50 L504.50 37.50 L494.50 37.50 M504.50 29.50 L505.50 29.50 L506.50 30.50 L507.50 32.50 L507.50 34.50 L506.50 35.50 L505.50 36.50 L504.50 37.50 M513.50 21.50 L513.50 37.50 M514.50 21.50 L514.50 37.50 M519.50 26.50 L519.50 32.50 M511.50 21.50 L523.50 21.50 L523.50 26.50 L523.50 21.50 M514.50 29.50 L519.50 29.50 M511.50 37.50 L523.50 37.50 L523.50 32.50 L523.50 37.50 M529.50 21.50 L529.50 37.50 M530.50 21.50 L530.50 37.50 M535.50 26.50 L535.50 32.50 M527.50 21.50 L539.50 21.50 L539.50 26.50 L539.50 21.50 M530.50 29.50 L535.50 29.50 M527.50 37.50 L539.50 37.50 L539.50 32.50 L539.50 37.50 M545.50 30.50 L558.50 30.50 M566.50 24.50 L568.50 23.50 L570.50 21.50 L570.50 37.50 M569.50 22.50 L569.50 37.50 M566.50 37.50 L573.50 37.50 M588.50 23.50 L587.50 24.50 L588.50 25.50 L589.50 24.50 L589.50 23.50 L588.50 22.50 L587.50 21.50 L584.50 21.50 L582.50 22.50 L580.50 23.50 L580.50 25.50 L579.50 28.50 L579.50 32.50 L580.50 35.50 L581.50 36.50 L584.50 37.50 L585.50 37.50 L587.50 36.50 L589.50 35.50 L590.50 32.50 L590.50 32.50 L589.50 29.50 L587.50 28.50 L585.50 27.50 L584.50 27.50 L582.50 28.50 L580.50 29.50 L580.50 32.50 M584.50 21.50 L583.50 22.50 L581.50 23.50 L580.50 25.50 L580.50 28.50 L580.50 32.50 L580.50 35.50 L582.50 36.50 L584.50 37.50 M585.50 37.50 L587.50 36.50 L588.50 35.50 L589.50 32.50 L589.50 32.50 L588.50 29.50 L587.50 28.50 L585.50 27.50 M595.50 24.50 L596.50 25.50 L595.50 26.50 L594.50 25.50 L594.50 24.50 L595.50 23.50 L596.50 22.50 L598.50 21.50 L601.50 21.50 L603.50 22.50 L604.50 23.50 L605.50 24.50 L605.50 26.50 L604.50 27.50 L602.50 29.50 L598.50 30.50 L596.50 31.50 L595.50 32.50 L594.50 35.50 L594.50 37.50 M601.50 21.50 L603.50 22.50 L603.50 23.50 L604.50 24.50 L604.50 26.50 L603.50 27.50 L601.50 29.50 L598.50 30.50 M594.50 35.50 L595.50 35.50 L596.50 35.50 L600.50 36.50 L603.50 36.50 L604.50 35.50 L605.50 35.50 M596.50 35.50 L600.50 37.50 L603.50 37.50 L604.50 36.50 L605.50 35.50 L605.50 33.50"/>
<path d="M484.50 723.50 L484.50 738.50 M484.50 723.50 L484.50 738.50 M480.50 723.50 L479.50 727.50 L479.50 723.50 L489.50 723.50 L489.50 727.50 L489.50 723.50 M482.50 738.50 L487.50 738.50 M494.50 723.50 L493.50 724.50 L494.50 724.50 L495.50 724.50 L494.50 723.50 M494.50 728.50 L494.50 738.50 M495.50 728.50 L495.50 738.50 M493.50 728.50 L495.50 728.50 M493.50 738.50 L496.50 738.50 M502.50 728.50 L502.50 738.50 M502.50 728.50 L502.50 738.50 M502.50 730.50 L504.50 729.50 L506.50 728.50 L507.50 728.50 L509.50 729.50 L510.50 730.50 L510.50 738.50 M507.50 728.50 L509.50 729.50 L509.50 730.50 L509.50 738.50 M510.50 730.50 L512.50 729.50 L514.50 728.50 L515.50 728.50 L517.50 729.50 L518.50 730.50 L518.50 738.50 M515.50 728.50 L516.50 729.50 L517.50 730.50 L517.50 738.50 M500.50 728.50 L502.50 728.50 M500.50 738.50 L504.50 738.50 M508.50 738.50 L512.50 738.50 M516.50 738.50 L519.50 738.50 M524.50 732.50 L532.50 732.50 L532.50 731.50 L532.50 729.50 L531.50 729.50 L530.50 728.50 L527.50 728.50 L525.50 729.50 L524.50 730.50 L523.50 732.50 L523.50 734.50 L524.50 736.50 L525.50 737.50 L527.50 738.50 L529.50 738.50 L531.50 737.50 L532.50 736.50 M532.50 732.50 L532.50 730.50 L531.50 729.50 M527.50 728.50 L526.50 729.50 L525.50 730.50 L524.50 732.50 L524.50 734.50 L525.50 736.50 L526.50 737.50 L527.50 738.50 M542.50 722.50 L541.50 723.50 L539.50 725.50 L538.50 727.50 L537.50 730.50 L537.50 733.50 L538.50 736.50 L539.50 738.50 L541.50 740.50 L542.50 742.50 M541.50 723.50 L539.50 725.50 L539.50 727.50 L538.50 730.50 L538.50 733.50 L539.50 736.50 L539.50 738.50 L541.50 740.50 M548.50 723.50 L548.50 734.50 L548.50 736.50 L550.50 737.50 L552.50 738.50 L553.50 738.50 L555.50 737.50 L557.50 736.50 L557.50 734.50 L557.50 723.50 M548.50 723.50 L548.50 734.50 L549.50 736.50 L550.50 737.50 L552.50 738.50 M546.50 723.50 L550.50 723.50 M555.50 723.50 L559.50 723.50 M567.50 723.50 L567.50 738.50 M568.50 723.50 L568.50 738.50 M563.50 723.50 L562.50 727.50 L562.50 723.50 L573.50 723.50 L573.50 727.50 L572.50 723.50 M565.50 738.50 L570.50 738.50 M586.50 725.50 L586.50 727.50 L586.50 723.50 L586.50 725.50 L584.50 724.50 L582.50 723.50 L581.50 723.50 L579.50 724.50 L577.50 725.50 L577.50 727.50 L576.50 729.50 L576.50 732.50 L577.50 734.50 L577.50 736.50 L579.50 737.50 L581.50 738.50 L582.50 738.50 L584.50 737.50 L586.50 736.50 L586.50 734.50 M581.50 723.50 L580.50 724.50 L578.50 725.50 L577.50 727.50 L577.50 729.50 L577.50 732.50 L577.50 734.50 L578.50 736.50 L580.50 737.50 L581.50 738.50 M591.50 722.50 L592.50 723.50 L593.50 725.50 L595.50 727.50 L595.50 730.50 L595.50 733.50 L595.50 736.50 L593.50 738.50 L592.50 740.50 L591.50 742.50 M592.50 723.50 L593.50 725.50 L594.50 727.50 L595.50 730.50 L595.50 733.50 L594.50 736.50 L593.50 738.50 L592.50 740.50"/>
<path d="M6.50 492.50 L21.50 492.50 M6.50 491.50 L21.50 491.50 M6.50 482.50 L21.50 482.50 M6.50 481.50 L21.50 481.50 M6.50 494.50 L6.50 489.50 M6.50 484.50 L6.50 479.50 M13.50 491.50 L13.50 482.50 M21.50 494.50 L21.50 489.50 M21.50 484.50 L21.50 479.50 M15.50 477.50 L15.50 469.50 L14.50 469.50 L12.50 470.50 L12.50 470.50 L11.50 472.50 L11.50 474.50 L12.50 476.50 L13.50 477.50 L15.50 478.50 L17.50 478.50 L19.50 477.50 L20.50 476.50 L21.50 474.50 L21.50 472.50 L20.50 470.50 L19.50 469.50 M15.50 470.50 L13.50 470.50 L12.50 470.50 M11.50 474.50 L12.50 475.50 L13.50 476.50 L15.50 477.50 L17.50 477.50 L19.50 476.50 L20.50 475.50 L21.50 474.50 M6.50 463.50 L7.50 464.50 L7.50 463.50 L7.50 463.50 L6.50 463.50 M11.50 463.50 L21.50 463.50 M11.50 463.50 L21.50 463.50 M11.50 465.50 L11.50 463.50 M21.50 465.50 L21.50 461.50 M11.50 454.50 L12.50 455.50 L12.50 456.50 L14.50 457.50 L15.50 457.50 L17.50 456.50 L17.50 455.50 L18.50 454.50 L18.50 453.50 L17.50 451.50 L17.50 450.50 L15.50 450.50 L14.50 450.50 L12.50 450.50 L12.50 451.50 L11.50 453.50 L11.50 454.50 M12.50 455.50 L13.50 456.50 L16.50 456.50 L17.50 455.50 M17.50 451.50 L16.50 450.50 L13.50 450.50 L12.50 451.50 M12.50 450.50 L12.50 450.50 L11.50 448.50 L11.50 448.50 L12.50 448.50 L12.50 448.50 L12.50 450.50 M17.50 456.50 L17.50 457.50 L19.50 457.50 L20.50 457.50 L21.50 457.50 L22.50 456.50 L22.50 454.50 L22.50 451.50 L23.50 449.50 L24.50 448.50 M20.50 457.50 L20.50 457.50 L21.50 455.50 L21.50 451.50 L22.50 449.50 L23.50 448.50 L24.50 448.50 L25.50 449.50 L25.50 451.50 L25.50 455.50 L25.50 457.50 L24.50 458.50 L23.50 458.50 L22.50 457.50 L21.50 455.50 M6.50 443.50 L21.50 443.50 M6.50 442.50 L21.50 442.50 M13.50 442.50 L12.50 441.50 L11.50 439.50 L11.50 438.50 L12.50 436.50 L13.50 435.50 L21.50 435.50 M11.50 438.50 L12.50 436.50 L13.50 436.50 L21.50 436.50 M6.50 444.50 L6.50 442.50 M21.50 444.50 L21.50 441.50 M21.50 437.50 L21.50 433.50 M6.50 427.50 L18.50 427.50 L20.50 427.50 L21.50 425.50 L21.50 424.50 L20.50 423.50 L19.50 422.50 M6.50 427.50 L18.50 427.50 L20.50 426.50 L21.50 425.50 M11.50 429.50 L11.50 424.50"/>
<path d="M5.50 402.50 L6.50 403.50 L8.50 405.50 L10.50 406.50 L13.50 407.50 L16.50 407.50 L19.50 406.50 L21.50 405.50 L23.50 403.50 L25.50 402.50 M6.50 403.50 L8.50 405.50 L10.50 405.50 L13.50 406.50 L16.50 406.50 L19.50 405.50 L21.50 405.50 L23.50 403.50 M6.50 397.50 L21.50 397.50 M6.50 396.50 L21.50 396.50 M11.50 389.50 L18.50 396.50 M15.50 393.50 L21.50 388.50 M15.50 393.50 L21.50 389.50 M6.50 398.50 L6.50 396.50 M11.50 390.50 L11.50 388.50 M21.50 398.50 L21.50 395.50 M21.50 390.50 L21.50 388.50 M11.50 382.50 L21.50 382.50 M11.50 381.50 L21.50 381.50 M13.50 381.50 L12.50 380.50 L11.50 378.50 L11.50 376.50 L12.50 374.50 L13.50 373.50 L21.50 373.50 M11.50 376.50 L12.50 375.50 L13.50 374.50 L21.50 374.50 M13.50 373.50 L12.50 372.50 L11.50 370.50 L11.50 369.50 L12.50 367.50 L13.50 366.50 L21.50 366.50 M11.50 369.50 L12.50 367.50 L13.50 367.50 L21.50 367.50 M11.50 383.50 L11.50 381.50 M21.50 383.50 L21.50 380.50 M21.50 376.50 L21.50 372.50 M21.50 368.50 L21.50 365.50 M5.50 360.50 L6.50 359.50 L8.50 357.50 L10.50 356.50 L13.50 355.50 L16.50 355.50 L19.50 356.50 L21.50 357.50 L23.50 359.50 L25.50 360.50 M6.50 359.50 L8.50 357.50 L10.50 356.50 L13.50 356.50 L16.50 356.50 L19.50 356.50 L21.50 357.50 L23.50 359.50"/>
</g>
</svg>
</body></html>
